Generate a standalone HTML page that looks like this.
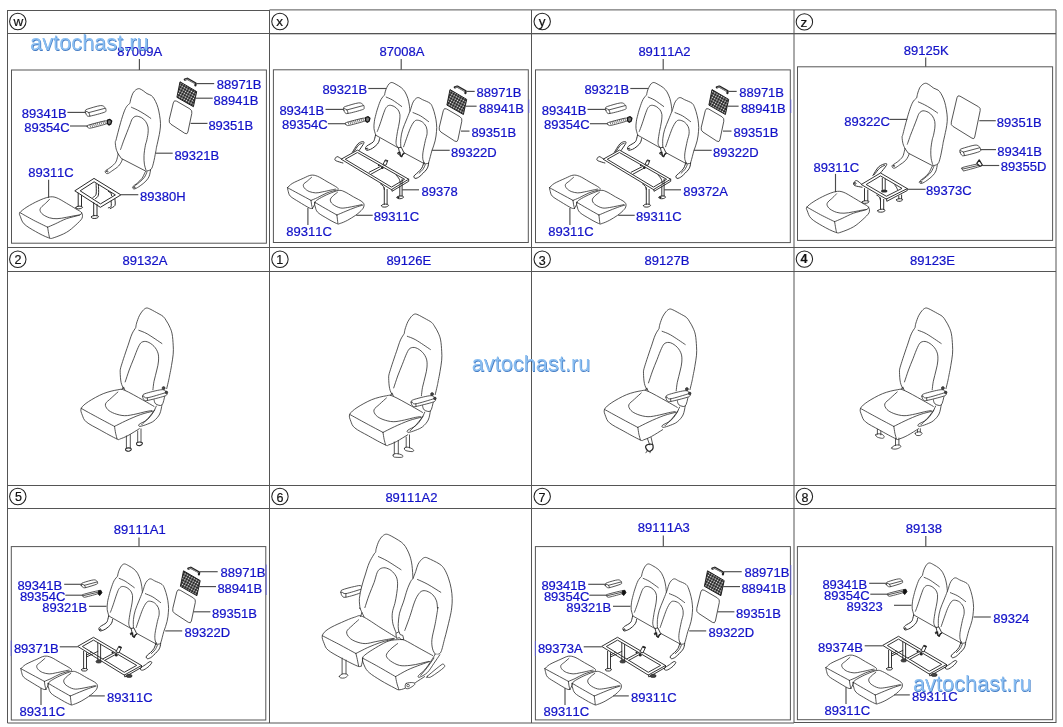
<!DOCTYPE html>
<html lang="en">
<head>
<meta charset="utf-8">
<title>Rear seat parts diagram</title>
<style>
html,body{margin:0;padding:0;background:#fff;}
body{width:1063px;height:727px;overflow:hidden;font-family:"Liberation Sans",Arial,sans-serif;}
svg{display:block;position:absolute;left:0;top:0;will-change:transform;}
.lb{font-kerning:none;font-feature-settings:'kern' 0;font-family:"Liberation Sans",Arial,sans-serif;font-size:13px;fill:#1212c8;stroke:#1212c8;stroke-width:0.22px;}
.ck{font-family:"Liberation Sans",Arial,sans-serif;fill:#111;stroke:#111;stroke-width:0.2px;text-anchor:middle;}
.wm{font-family:"Liberation Sans",Arial,sans-serif;font-size:22.6px;}
.d{fill:none;stroke:#2a2a2a;stroke-width:0.8;stroke-linejoin:round;stroke-linecap:round;}
.df{fill:#fff;stroke:#2a2a2a;stroke-width:0.8;stroke-linejoin:round;stroke-linecap:round;}
.ld{fill:none;stroke:#4d4d4d;stroke-width:1.15;}
</style>
</head>
<body>
<svg width="1063" height="727" viewBox="0 0 1063 727">
<rect width="1063" height="727" fill="#fff"/>
<path d="M7.5 10.0V723.0M269.5 10.0V723.0M531.5 10.0V723.0M794.0 10.0V723.0M1056.0 10.0V723.0M7.5 33.5H1056.0M7.5 247.5H1056.0M7.5 271.5H1056.0M7.5 485.5H1056.0M7.5 508.5H1056.0M7.5 10.5H269.5M269.5 9.9H1056.0M7.5 723.0H794M794 722.5H1056.0" fill="none" stroke="#555" stroke-width="1"/>
<path d="M269.5 34.2H1056.0" fill="none" stroke="#555" stroke-width="1" opacity="0.45"/>
<rect x="11.5" y="70.0" width="254.9" height="173.2" fill="none" stroke="#555" stroke-width="1"/>
<rect x="273.4" y="69.8" width="254.9" height="172.7" fill="none" stroke="#555" stroke-width="1"/>
<rect x="535.5" y="69.9" width="254.8" height="172.7" fill="none" stroke="#555" stroke-width="1"/>
<rect x="797.5" y="66.8" width="255.1" height="173.6" fill="none" stroke="#555" stroke-width="1"/>
<rect x="11.3" y="546.6" width="254.5" height="173.4" fill="none" stroke="#555" stroke-width="1"/>
<rect x="535.4" y="546.6" width="255.0" height="173.3" fill="none" stroke="#555" stroke-width="1"/>
<rect x="797.4" y="546.6" width="255.2" height="173.1" fill="none" stroke="#555" stroke-width="1"/>
<defs><pattern id="net" width="2.6" height="2.6" patternUnits="userSpaceOnUse" patternTransform="rotate(28)">
<rect width="2.6" height="2.6" fill="#1c1c1c"/><circle cx="1.3" cy="1.3" r="0.82" fill="#f0f0f0"/></pattern></defs>
<path class="d" d="M118.1 153.8C117.8 153 116.7 151 116.2 149.1C115.7 147.2 115.3 144 115.3 142.5C115.2 141 115.6 141.8 116 140.2C116.4 138.6 117.1 135.7 117.9 132.7C118.7 129.7 119.7 125.8 120.7 122.3C121.7 118.9 123 114.7 124 112C125 109.3 125.8 107.8 126.8 106.3C127.8 104.9 129.4 103.8 129.9 103.3C130 103 130.1 102 130.3 101.2C130.5 100.3 130.6 99.7 131 98.3C131.5 97 132.1 94.6 132.9 93.2C133.8 91.7 135.1 90.3 136.2 89.6C137.3 88.9 138.3 88.5 139.5 88.7C140.7 89 142 90 143.3 90.8C144.5 91.6 145.7 92.9 147 93.6C148.4 94.4 150.1 94.7 151.3 95.5C152.4 96.4 153.2 97.3 154.1 98.8C155 100.3 156.1 102.4 156.9 104.5C157.7 106.5 158.2 108.5 158.8 111C159.3 113.6 159.9 116.8 160.2 119.5C160.5 122.2 160.6 124.5 160.4 127C160.2 129.5 159.7 132.2 159.3 134.6C158.8 136.9 158.3 139 157.9 141.1C157.4 143.3 156.8 145.9 156.4 147.7C156.1 149.5 156.2 149.4 155.7 151.9C155.2 154.5 154.2 160.3 153.4 163.2C152.6 166.1 152.3 168 151 169.3C149.8 170.7 146.7 170.9 145.9 171.2L145.9 171.2L121.4 158.5L118.1 153.8"/>
<path class="d" d="M131.5 107.3C132.5 107.8 135.5 109 137.6 110.1C139.7 111.2 142 112.5 144.2 113.9C146.4 115.2 149.7 117.6 150.8 118.4"/>
<path class="d" d="M120.5 149.6C120.6 149.3 120.7 149.1 121.2 147.7C121.7 146.3 122.6 143.7 123.5 141.1C124.5 138.6 125.7 135.5 126.8 132.7C127.9 129.9 129.2 126.6 130.1 124.2C131 121.9 131.4 119.9 132.5 118.6C133.5 117.2 134.7 116.4 136.2 116.2C137.7 116.1 139.8 116.8 141.4 117.6C143 118.5 144.5 119.8 145.6 121.4C146.7 123 147.6 125 148 127C148.4 129.1 148.2 131.3 148 133.6C147.7 136 147 139.2 146.6 141.1C146.1 143.1 145.8 142.9 145.4 145.3C144.9 147.8 144.1 152.6 144 155.7C143.8 158.8 144.1 161.8 144.4 164.2C144.8 166.5 145.6 168.9 145.9 169.8"/>
<path class="d" d="M118.1 154.3C118 154.7 118 155.3 117.6 156.6C117.2 158 116.8 160.6 115.7 162.3C114.7 164 112.5 165.7 111 167C109.6 168.2 107.8 169.1 106.8 169.8C105.8 170.5 105.4 170.7 105.2 171.2C105.1 171.8 105.4 172.7 105.9 173.1C106.4 173.5 107 173.9 108.2 173.4C109.4 172.9 111.2 171.5 112.9 170.3C114.7 169.1 117.2 167.5 118.6 166C120 164.6 120.8 162.9 121.4 161.8C122 160.7 122.2 159.7 122.3 159.3"/>
<path class="d" d="M106.6 171.2C106.6 171 107 170.5 107.3 170.6C107.5 170.6 108 171.1 108 171.3C108 171.6 107.5 172.1 107.3 172.1C107 172 106.6 171.5 106.6 171.2Z"/>
<path class="d" d="M145.9 171.2C145.7 171.5 145.5 171.5 144.9 172.6C144.3 173.8 143.3 176.5 142.1 178.3C140.8 180 138.9 181.6 137.4 183C135.9 184.3 133.9 185.4 133.2 186.3C132.4 187.1 132.4 187.7 132.7 188.2C133 188.6 133.8 189.2 135 188.8C136.3 188.4 138.4 187.1 140.2 185.8C142 184.5 144.4 182.7 145.9 181.1C147.3 179.5 148.4 178.2 149.1 176.4C149.9 174.5 150.3 171.1 150.6 170"/>
<path class="d" d="M147 171.9C146.6 172.8 145.6 175.6 144.4 177.3C143.2 179 141.2 180.7 139.7 182C138.2 183.4 136.2 184.8 135.5 185.3"/>
<path class="d" d="M133.8 187.2C133.8 187 134.3 186.4 134.6 186.5C134.8 186.5 135.3 187.1 135.3 187.3C135.3 187.6 134.8 188 134.6 188C134.3 187.9 133.8 187.5 133.8 187.2Z"/>
<path class="d" d="M48.6 197.1C51.5 196.6 53.1 196.6 56.1 197.6C59.1 198.6 63.2 201.3 66.4 203.2C69.7 205.1 73.3 207.3 75.9 208.9C78.4 210.4 80.5 211.1 81.5 212.6C82.5 214.2 82.9 216.2 82 218.3C81 220.3 78.4 222.5 75.9 224.9C73.3 227.2 70.1 230.3 66.4 232.4C62.8 234.5 57.2 236.6 54.2 237.6C51.2 238.5 51.7 238.9 48.6 237.8C45.4 236.8 39.5 233.8 35.4 231.4C31.3 229.1 26.6 226.4 24.1 223.9C21.6 221.4 21.1 218.3 20.3 216.4C19.6 214.5 18.8 214.2 19.9 212.6C21 211.1 23.9 208.9 26.9 207C30 205 34.6 202.5 38.2 200.9C41.8 199.2 45.6 197.7 48.6 197.1Z"/>
<path class="d" d="M19.9 212.6C22.2 213.9 28.9 217.7 33.5 220.2C38.1 222.6 45.3 226 47.6 227.2M47.6 227.2C48.9 226.7 52 225.3 55.2 223.9C58.3 222.5 62.4 220.2 66.4 218.7C70.5 217.3 77.1 216 79.6 215C82.1 214 81.2 213 81.5 212.6"/>
<path class="d" d="M47.6 227.2C47.8 228.2 48.3 231.6 48.6 233.3C48.9 235.1 49.4 237.1 49.5 237.8"/>
<path class="d" d="M49.5 199.3C48.9 199.9 47.2 201.9 45.7 203.2C44.3 204.6 42 206.2 41 207.5C40.1 208.7 39.8 209.6 40.1 210.7C40.4 211.9 41.4 213.3 42.9 214.5C44.5 215.7 47.2 217.1 49.5 217.8C51.9 218.5 54.2 218.8 57 218.7C59.9 218.7 63.3 217.9 66.4 217.3C69.6 216.8 73.7 215.8 75.9 215.5C78 215.1 79 215.1 79.6 215"/>
<path class="d" d="M173.4 102.5Q174.1 99.6 176.7 101.2L189.9 108.9Q192.5 110.5 191.8 113.4L187.9 132Q187.3 134.9 184.8 133.3L171 124.3Q168.5 122.7 169.2 119.8Z"/>
<path d="M180 81.8L196.7 91.6L193.4 106.7L176.9 97.3Z" fill="url(#net)" stroke="#111" stroke-width="0.9" stroke-linejoin="round"/>
<path class="d" d="M184.8 79.6L187.3 78.7L195.7 83.4L195.4 85.3" style="stroke-width:2.2;stroke:#222"/>
<path class="d" d="M185.6 79.5L187.3 79.2L194.8 83.5" style="stroke-width:0.6;stroke:#ddd"/>
<path class="d" d="M85.6 112.8C85.3 112.1 85 111.5 85.3 110.9C85.6 110.2 84.9 110 87.4 109.1C89.9 108.3 97.5 105.9 100.4 105.6C103.3 105.3 103.8 106.6 104.7 107.3C105.7 108 106 109.1 105.9 109.9C105.9 110.8 107 111.3 104.3 112.3C101.7 113.3 93 115.6 90.1 116.1C87.2 116.7 87.7 116 86.9 115.5C86.2 114.9 85.9 113.6 85.6 112.8Z"/>
<path class="d" d="M85.6 111.2C86.1 111.5 88.1 111.8 88.8 112.6C89.5 113.4 89.6 115.4 89.8 116M88.8 112.6L105 108.3"/>
<path class="d" d="M87.4 126.7C87.4 126.3 85.4 126.2 88.2 125.2C91 124.3 101.2 121.6 104.3 121C107.5 120.4 106.9 121.1 107.3 121.6C107.6 122 109.3 122.6 106.7 123.7C104.1 124.7 94.7 127.2 91.7 127.9C88.6 128.6 89.2 128.1 88.5 127.9C87.8 127.7 87.5 127.1 87.4 126.7Z"/>
<path class="d" d="M89.8 124.9L90.6 127M91.7 124.4L92.5 126.5M93.5 123.9L94.3 126M95.4 123.4L96.2 125.5M97.2 123L98 125.1M99.1 122.5L99.9 124.6M100.9 122L101.7 124.1M102.8 121.5L103.6 123.6M104.6 121L105.4 123.2" style="stroke-width:0.6"/>
<path d="M107.5 120.2L109.9 119.4L111.7 121L110.9 123.9L109.1 125L107.3 123.4Z" fill="#777" stroke="#111" stroke-width="1.3" stroke-linejoin="round"/>
<path class="df" d="M75.1 190.6L94 178.4L120.9 194.9L100.7 207.1Z" style="stroke-width:1.0"/>
<path class="d" d="M80.5 190.6L94.1 181.8L115.4 194.9L100.8 203.7Z" style="stroke-width:1.0"/>
<path class="d" d="M78.2 193.2L78.2 206.4M81.5 195.3L81.5 206.4" style="stroke-width:1.0"/>
<path class="d" d="M75.9 207.3C76.1 206.9 77.3 206.4 78.2 206.2C79.2 206 80.8 206.2 81.5 206.4C82.2 206.6 82.7 207.1 82.5 207.5C82.2 207.9 81 208.5 80.1 208.7C79.2 208.9 77.5 209 76.8 208.7C76.1 208.5 75.6 207.8 75.9 207.3Z" style="stroke-width:1.0"/>
<path class="d" d="M93.7 202.6L93.7 215.8M97 204.3L97 215.8" style="stroke-width:1.0"/>
<path class="d" d="M91.4 216.7C91.6 216.3 92.7 215.8 93.7 215.6C94.8 215.5 96.7 215.6 97.5 215.8C98.3 216 98.7 216.5 98.4 216.9C98.2 217.4 97.1 218.1 96.1 218.3C95.1 218.6 93.1 218.5 92.3 218.2C91.5 218 91.2 217.2 91.4 216.7Z" style="stroke-width:1.0"/>
<path class="d" d="M111.1 201.2C111.1 202.1 111.6 205.3 111.1 206.4C110.7 207.5 108.8 207.6 108.3 207.8M114.9 199.1C114.9 200.1 115.7 203.9 114.9 205.5C114.1 207 111 208 110.2 208.5" style="stroke-width:1.0"/>
<path class="d" d="M96.1 183.8C96.1 185.5 96.6 191.9 96.1 194.2C95.5 196.4 93.4 196.9 92.8 197.5M98.4 184.6C98.4 186.3 99 192.8 98.4 195.1C97.9 197.5 95.7 198.1 95.2 198.7" style="stroke-width:1.0"/>
<path class="d" d="M108.3 191.3L111.1 193.2L111.6 195.6" style="stroke-width:1.0"/>
<path class="ld" d="M139.4 59L139.4 70"/>
<path class="ld" d="M67.4 112.4L85.9 112.4"/>
<path class="ld" d="M70 126L87.2 126"/>
<path class="ld" d="M196.3 83.6L214.2 83.6"/>
<path class="ld" d="M195.5 98.2L212.7 98.2"/>
<path class="ld" d="M190.6 123.4L207.5 123.4"/>
<path class="ld" d="M155.7 153.2L172.7 153.2"/>
<path class="ld" d="M121 194.7L138.3 194.7"/>
<path class="ld" d="M48.6 179.7L48.6 197.1"/>
<path class="d" d="M375.4 134.1C375.2 133.2 374.2 130.5 374 128.5C373.8 126.4 374 123.9 374.3 121.8C374.5 119.8 374.8 118.7 375.4 116.4C376 114.1 376.8 110.7 377.8 107.9C378.7 105.1 379.9 101.6 381 99.5C382.2 97.3 384 95.7 384.6 94.9C384.7 94.4 384.8 93.1 385.2 91.9C385.5 90.7 386 89 386.7 87.7C387.3 86.4 388.2 84.8 389 83.9C389.9 83.1 390.7 82.4 391.9 82.5C393 82.6 394.5 83.5 396.1 84.4C397.7 85.3 399.8 86.4 401.3 87.7C402.8 89 403.9 90.1 405 91.9C406.1 93.7 407.1 96.3 407.9 98.5C408.6 100.7 408.9 103 409.3 105.1C409.6 107.2 409.9 110.2 410 111.2"/>
<path class="d" d="M386.2 97.1C387.2 97.6 389.7 98.4 392.3 99.9C394.9 101.5 400.2 105.4 401.7 106.5"/>
<path class="d" d="M377.3 131.4C377.8 130.2 379 127.1 380.1 123.9C381.2 120.8 382.8 115.4 383.9 112.6C384.9 109.9 385.3 108.7 386.2 107.5C387.2 106.2 388.2 105.4 389.5 105.3C390.8 105.1 392.8 105.8 394.2 106.5C395.6 107.3 397 108.5 398 109.8C398.9 111.1 399.6 112.5 399.9 114.5C400.1 116.5 399.8 119.2 399.4 122C399 124.9 398.1 128.3 397.5 131.4C397 134.6 396.3 138.6 396.1 140.9C395.9 143.2 396.2 144.3 396.6 145.4C397 146.5 398.1 147.4 398.4 147.8"/>
<path class="d" d="M400.8 147.3C400.8 145.9 400.5 141.8 400.8 138.8C401.1 135.8 401.7 132.5 402.7 129.4C403.6 126.3 405.3 122.9 406.4 120C407.6 117 409 113.7 409.7 111.7C410.5 109.7 410.7 109.3 411.1 107.9C411.6 106.5 411.9 104.6 412.6 103.2C413.2 101.8 414 100.4 414.9 99.5C415.9 98.5 416.9 97.5 418.2 97.6C419.5 97.6 420.5 98.7 422.4 99.6C424.4 100.6 428.2 101.8 430 103.2C431.7 104.6 431.9 105.9 432.8 107.9C433.6 110 434.5 112.8 435.1 115.5C435.8 118.1 436.3 121.3 436.5 123.9C436.8 126.6 436.8 128.6 436.5 131.4C436.3 134.3 435.9 137.6 435.1 140.9C434.4 144.2 432.9 147.6 431.8 151C430.8 154.5 429.7 159.3 429 161.4C428.3 163.5 428.4 163.1 427.6 163.5C426.8 163.9 424.9 163.7 424.3 163.7"/>
<path class="d" d="M376.3 135.5L398.9 148.2M403.6 152.5L424.3 163.7"/>
<path class="d" d="M413 112.6C414.3 113.2 418 114.4 420.6 115.9C423.1 117.4 427.2 120.6 428.6 121.6"/>
<path class="d" d="M403.6 146.8C404.1 145.5 405.3 141.9 406.4 138.8C407.5 135.8 409 131.3 410.2 128.5C411.5 125.6 412.8 123.2 414 121.8C415.1 120.5 415.9 120.1 417.3 120.2C418.7 120.2 420.9 120.9 422.4 122C423.9 123.1 425.4 124.9 426.2 126.7C427 128.6 427.3 131 427.1 133.3C427 135.7 426 137.4 425.3 140.7C424.6 144 423.3 149.8 422.9 152.9C422.5 156.1 422.7 157.8 422.9 159.5C423.1 161.2 424.1 162.6 424.3 163.3"/>
<path class="d" d="M375.6 134.6C375.4 135.3 375.1 137.6 374.6 138.8C374.2 140.1 374.3 140.9 373 142.1C371.8 143.3 368.4 144.8 367.1 145.8C365.9 146.8 365.6 147.3 365.5 148C365.4 148.8 365.9 150 366.5 150.3C367 150.6 367.8 150.3 368.8 149.9C369.8 149.6 371.2 149.2 372.6 148.2C374 147.3 376.2 145.4 377.3 144.2C378.3 143 378.6 142.1 379 141.2C379.4 140.3 379.4 139.1 379.5 138.7" style="stroke-width:1"/>
<path class="d" d="M366.5 148.7C366.5 148.5 366.9 148 367.1 148C367.4 148 367.9 148.6 367.9 148.8C367.9 149 367.4 149.5 367.1 149.4C366.9 149.4 366.5 148.9 366.5 148.7Z"/>
<path class="d" d="M424 162.3C423.6 163.3 422.7 166.5 421.7 168.2C420.7 169.8 419.3 171.1 418.2 172.2C417.1 173.3 415.8 174 415.1 174.8C414.4 175.5 413.8 176.2 413.8 176.8C413.8 177.4 414.5 178.2 415.1 178.4C415.7 178.6 416.4 178.2 417.3 177.9C418.1 177.5 418.6 177.4 420.1 176.1C421.6 174.7 424.9 171.5 426.2 169.9C427.5 168.2 427.7 167.3 428.1 166.1C428.5 164.9 428.5 163.4 428.6 162.9" style="stroke-width:1"/>
<path class="d" d="M425.3 164.7C424.9 165.5 423.9 168 422.9 169.4C421.9 170.8 419.8 172.5 419.1 173.2"/>
<path d="M398.4 147.8L401.3 147.3L403.6 152L404.6 153.4L402.7 154.3L401.7 156.7L400.3 156.2L399.9 153.9L398 154.3L397.5 152.9L399.4 152Z" fill="#fff" stroke="#222" stroke-width="0.9" stroke-linejoin="round"/>
<path d="M398 152.9L399.9 152.5L400.3 155.7L401.7 156.5L402.7 154.3L404.1 153.4" fill="none" stroke="#222" stroke-width="1.3"/>
<path class="df" d="M352.3 152.4C353.2 151 356.2 145.7 357.9 143.9C359.7 142.1 361.7 141.7 362.6 141.6C363.6 141.5 364.4 141.8 363.8 143.3C363.2 144.8 359.8 149.3 359.1 150.5" style="stroke-width:0.95"/>
<path class="d" d="M353.7 151.9C354.5 150.8 357 146.8 358.4 145.3C359.8 143.9 361.5 143.6 362.2 143.3" style="stroke-width:0.95"/>
<path class="df" d="M341.5 159C340.8 158.6 338.3 156.6 337.2 156.6C336.1 156.7 335 158.6 334.9 159.3C334.7 160 335 160.2 336.3 160.9C337.6 161.5 341.8 162.7 342.9 163" style="stroke-width:0.95"/>
<path class="df" d="M341.5 159L357.5 150.1L408.7 179.2L391.8 189.4Z" style="stroke-width:0.95"/>
<path class="df" d="M345.6 159.1L357.4 152.5L404.6 179.3L391.8 186.9Z" style="stroke-width:0.95"/>
<path class="d" d="M391.8 189.4L392 191.3L408.7 181.3L408.7 179.2" style="stroke-width:0.95"/>
<path class="df" d="M369.2 172.2L380.5 166.5L382.4 167.9L371.3 174" style="stroke-width:0.95"/>
<path class="df" d="M383.1 164.4L385.2 159.9L387.8 160.6L386.1 164.9Z" style="stroke-width:0.95"/>
<path d="M385.2 159.9L387.8 160.6L387.3 161.8L385 161.3Z" fill="#333"/>
<circle cx="382.4" cy="167.7" r="1.2" fill="#222"/>
<circle cx="378.8" cy="165.3" r="0.9" fill="#222"/>
<path class="d" d="M396 175C396.6 175.7 398.6 177.7 399.3 179.2C400 180.7 400.1 183.1 400.3 183.9M402.1 179.2L402.1 183.9" style="stroke-width:0.95"/>
<path class="d" d="M380.5 183.9C381 184.3 382.7 185.3 383.3 186.3C384 187.2 384.1 189 384.3 189.6" style="stroke-width:0.95"/>
<path class="d" d="M384.3 187.7L384.3 204.3M387.1 189.4L387.1 204.3" style="stroke-width:0.95"/>
<path class="d" d="M381.4 205.6C381.6 205.1 382.8 204.4 383.8 204.2C384.8 204 386.5 204.1 387.3 204.3C388.1 204.6 388.7 205.1 388.5 205.6C388.3 206 386.9 206.7 386 207C385 207.2 383.3 207.1 382.6 206.9C381.8 206.6 381.2 206 381.4 205.6Z" style="stroke-width:0.95"/>
<path class="d" d="M399.8 185.8L399.8 196.1M402.1 184.7L402.1 196.1" style="stroke-width:0.95"/>
<path class="d" d="M397 197.1C397.2 196.7 398.4 196.1 399.3 196C400.3 195.8 401.9 195.9 402.6 196.1C403.3 196.4 403.8 196.9 403.6 197.3C403.3 197.7 402.1 198.4 401.2 198.6C400.3 198.8 398.6 198.8 397.9 198.5C397.2 198.2 396.7 197.5 397 197.1Z" style="stroke-width:0.95"/>
<circle cx="398.4" cy="197.5" r="1.1" fill="#222"/>
<path class="d" d="M287.5 187.7C288.3 187 289.6 185.1 292.2 183.5C294.9 181.9 300.4 179.6 303.5 178.2C306.7 176.8 308.7 175.5 311 175.2C313.4 174.9 315 175.3 317.6 176.3C320.3 177.4 323.7 179.7 327 181.6C330.3 183.5 335.6 186.3 337.4 187.7C339.1 189.1 337.5 189.7 337.6 190.1"/>
<path class="d" d="M312.5 208.4C311.9 208.3 311.4 209 309.2 207.9C306.9 206.8 302 203.8 298.8 201.8C295.7 199.9 292.2 198 290.3 196.2C288.5 194.3 288.5 191.9 288 190.5C287.5 189.1 287.6 188.2 287.5 187.7"/>
<path class="d" d="M287.5 187.7C289.4 188.7 294.9 191.7 298.8 193.8C302.7 195.9 309 199.3 311 200.4M311 200.4C312.1 199.9 315 198.8 317.6 197.6C320.3 196.3 323.9 194.1 327 192.9C330.2 191.6 334.9 190.5 336.4 190.1"/>
<path class="d" d="M311 200.4C311.1 201 311.3 202.8 311.5 204.2C311.7 205.5 312.3 207.7 312.5 208.4"/>
<path class="d" d="M311.5 177.4C310.8 178 308.6 179.9 307.3 181.1C305.9 182.3 304 183.2 303.5 184.4C303 185.6 303.5 187 304.5 188.2C305.4 189.3 307.3 190.7 309.2 191.5C311 192.2 313.6 192.8 315.7 192.9C317.9 193 319.8 192.4 322.3 191.9C324.8 191.5 328.6 190.5 330.8 190.1C333 189.6 334.7 189.3 335.5 189.1"/>
<path class="d" d="M312.5 208.4C312.7 208 313.4 206.9 313.9 206C314.3 205.2 314.8 203.7 315 203.2"/>
<path class="d" d="M314.8 202.3C315.5 200.9 317.2 199.9 319.5 198.5C321.9 197.1 325.8 195.1 328.9 193.8C332.1 192.5 335.8 190.9 338.3 190.5C340.8 190.1 341.5 190.4 344 191.5C346.5 192.5 350.2 195 353.4 196.8C356.5 198.6 361.1 200.6 362.8 202.3C364.5 204 364.2 205.4 363.7 207C363.3 208.6 361.4 210.3 360 211.7C358.6 213.1 357.3 214 355.3 215.5C353.2 216.9 350.2 218.8 347.7 220.2C345.2 221.5 342.1 222.9 340.2 223.4C338.3 224 339 224.5 336.4 223.4C333.9 222.4 328.3 219.2 325.2 217.3C322 215.5 319.3 213.9 317.6 212.2C316 210.4 315.7 208.6 315.3 207C314.8 205.3 314.1 203.7 314.8 202.3Z"/>
<path class="d" d="M314.8 202.3C316.5 203.3 321.5 206.3 325.2 208.4C328.8 210.5 335 213.9 336.9 215M336.9 215C338.4 214.4 342.8 212.5 345.9 211.2C348.9 210 352.4 208.5 355.3 207.5C358.1 206.4 361.5 205.5 362.8 205.1"/>
<path class="d" d="M336.9 215C337 215.7 337.2 217.8 337.4 219.2C337.5 220.6 337.8 222.7 337.9 223.4"/>
<path class="d" d="M337.4 192.4C336.6 193 333.9 194.9 332.7 196.2C331.5 197.4 330.3 198.6 330.3 199.9C330.3 201.3 331 202.8 332.7 204.2C334.3 205.5 337.7 207.4 340.2 207.9C342.7 208.5 345.2 207.8 347.7 207.5C350.2 207.1 352.9 206.5 355.3 206C357.6 205.6 360.7 204.9 361.8 204.6"/>
<path class="d" d="M443.4 110.3Q444.1 107.4 446.7 109L459.9 116.7Q462.5 118.3 461.8 121.2L457.9 139.8Q457.3 142.7 454.8 141.1L441 132.1Q438.5 130.5 439.2 127.6Z"/>
<path d="M450 89.6L466.7 99.4L463.4 114.5L446.9 105.1Z" fill="url(#net)" stroke="#111" stroke-width="0.9" stroke-linejoin="round"/>
<path class="d" d="M454.8 87.4L457.3 86.5L465.7 91.2L465.4 93.1" style="stroke-width:2.2;stroke:#222"/>
<path class="d" d="M455.6 87.3L457.3 87L464.8 91.3" style="stroke-width:0.6;stroke:#ddd"/>
<path class="d" d="M343.8 110.1C343.5 109.4 343.2 108.8 343.5 108.2C343.8 107.5 343.1 107.3 345.6 106.4C348.1 105.6 355.7 103.2 358.6 102.9C361.5 102.6 362 103.9 362.9 104.6C363.9 105.3 364.2 106.4 364.1 107.2C364.1 108.1 365.2 108.6 362.5 109.6C359.9 110.6 351.2 112.9 348.3 113.4C345.4 114 345.9 113.3 345.1 112.8C344.4 112.2 344.1 110.9 343.8 110.1Z"/>
<path class="d" d="M343.8 108.5C344.3 108.8 346.3 109.1 347 109.9C347.7 110.7 347.8 112.7 348 113.3M347 109.9L363.2 105.6"/>
<path class="d" d="M345.6 124C345.6 123.6 343.6 123.5 346.4 122.5C349.2 121.6 359.4 118.9 362.5 118.3C365.7 117.7 365.1 118.4 365.5 118.9C365.8 119.3 367.5 119.9 364.9 121C362.3 122 352.9 124.5 349.9 125.2C346.8 125.9 347.4 125.4 346.7 125.2C346 125 345.7 124.4 345.6 124Z"/>
<path class="d" d="M348 122.2L348.8 124.3M349.9 121.7L350.7 123.8M351.7 121.2L352.5 123.3M353.6 120.7L354.4 122.8M355.4 120.3L356.2 122.4M357.3 119.8L358.1 121.9M359.1 119.3L359.9 121.4M361 118.8L361.8 120.9M362.8 118.3L363.6 120.5" style="stroke-width:0.6"/>
<path d="M365.7 117.5L368.1 116.7L369.9 118.3L369.1 121.2L367.3 122.3L365.5 120.7Z" fill="#777" stroke="#111" stroke-width="1.3" stroke-linejoin="round"/>
<path class="ld" d="M401.2 59L401.2 69.8"/>
<path class="ld" d="M368.3 88.5L386.2 88.5"/>
<path class="ld" d="M431.8 150.3L449.7 150.3"/>
<path class="ld" d="M402.1 189.8L419 189.8"/>
<path class="ld" d="M307.9 207.9L307.9 224.9"/>
<path class="ld" d="M356.2 215.3L372.7 215.3"/>
<path class="ld" d="M466.7 91.4L474.7 91.4"/>
<path class="ld" d="M465.7 106.2L476.6 106.2"/>
<path class="ld" d="M461 131.1L469.5 131.1"/>
<path class="ld" d="M325.5 109.4L343.4 109.4"/>
<path class="ld" d="M327.9 123.7L345.3 123.7"/>
<path class="d" d="M637.4 134.1C637.2 133.2 636.2 130.5 636 128.5C635.8 126.4 636 123.9 636.3 121.8C636.5 119.8 636.8 118.7 637.4 116.4C638 114.1 638.8 110.7 639.8 107.9C640.7 105.1 641.9 101.6 643 99.5C644.2 97.3 646 95.7 646.6 94.9C646.7 94.4 646.8 93.1 647.2 91.9C647.5 90.7 648 89 648.7 87.7C649.3 86.4 650.2 84.8 651 83.9C651.9 83.1 652.7 82.4 653.9 82.5C655 82.6 656.5 83.5 658.1 84.4C659.7 85.3 661.8 86.4 663.3 87.7C664.8 89 665.9 90.1 667 91.9C668.1 93.7 669.1 96.3 669.9 98.5C670.6 100.7 670.9 103 671.3 105.1C671.6 107.2 671.9 110.2 672 111.2"/>
<path class="d" d="M648.2 97.1C649.2 97.6 651.7 98.4 654.3 99.9C656.9 101.5 662.2 105.4 663.7 106.5"/>
<path class="d" d="M639.3 131.4C639.8 130.2 641 127.1 642.1 123.9C643.2 120.8 644.8 115.4 645.9 112.6C646.9 109.9 647.3 108.7 648.2 107.5C649.2 106.2 650.2 105.4 651.5 105.3C652.8 105.1 654.8 105.8 656.2 106.5C657.6 107.3 659 108.5 660 109.8C660.9 111.1 661.6 112.5 661.9 114.5C662.1 116.5 661.8 119.2 661.4 122C661 124.9 660.1 128.3 659.5 131.4C659 134.6 658.3 138.6 658.1 140.9C657.9 143.2 658.2 144.3 658.6 145.4C659 146.5 660.1 147.4 660.4 147.8"/>
<path class="d" d="M662.8 147.3C662.8 145.9 662.5 141.8 662.8 138.8C663.1 135.8 663.7 132.5 664.7 129.4C665.6 126.3 667.3 122.9 668.4 120C669.6 117 671 113.7 671.7 111.7C672.5 109.7 672.7 109.3 673.1 107.9C673.6 106.5 673.9 104.6 674.6 103.2C675.2 101.8 676 100.4 676.9 99.5C677.9 98.5 678.9 97.5 680.2 97.6C681.5 97.6 682.5 98.7 684.4 99.6C686.4 100.6 690.2 101.8 692 103.2C693.7 104.6 693.9 105.9 694.8 107.9C695.6 110 696.5 112.8 697.1 115.5C697.8 118.1 698.3 121.3 698.5 123.9C698.8 126.6 698.8 128.6 698.5 131.4C698.3 134.3 697.9 137.6 697.1 140.9C696.4 144.2 694.9 147.6 693.8 151C692.8 154.5 691.7 159.3 691 161.4C690.3 163.5 690.4 163.1 689.6 163.5C688.8 163.9 686.9 163.7 686.3 163.7"/>
<path class="d" d="M638.3 135.5L660.9 148.2M665.6 152.5L686.3 163.7"/>
<path class="d" d="M675 112.6C676.3 113.2 680 114.4 682.6 115.9C685.1 117.4 689.2 120.6 690.6 121.6"/>
<path class="d" d="M665.6 146.8C666.1 145.5 667.3 141.9 668.4 138.8C669.5 135.8 671 131.3 672.2 128.5C673.5 125.6 674.8 123.2 676 121.8C677.1 120.5 677.9 120.1 679.3 120.2C680.7 120.2 682.9 120.9 684.4 122C685.9 123.1 687.4 124.9 688.2 126.7C689 128.6 689.3 131 689.1 133.3C689 135.7 688 137.4 687.3 140.7C686.6 144 685.3 149.8 684.9 152.9C684.5 156.1 684.7 157.8 684.9 159.5C685.1 161.2 686.1 162.6 686.3 163.3"/>
<path class="d" d="M637.6 134.6C637.4 135.3 637.1 137.6 636.6 138.8C636.2 140.1 636.3 140.9 635 142.1C633.8 143.3 630.4 144.8 629.1 145.8C627.9 146.8 627.6 147.3 627.5 148C627.4 148.8 627.9 150 628.5 150.3C629 150.6 629.8 150.3 630.8 149.9C631.8 149.6 633.2 149.2 634.6 148.2C636 147.3 638.2 145.4 639.3 144.2C640.3 143 640.6 142.1 641 141.2C641.4 140.3 641.4 139.1 641.5 138.7" style="stroke-width:1"/>
<path class="d" d="M628.5 148.7C628.5 148.5 628.9 148 629.1 148C629.4 148 629.9 148.6 629.9 148.8C629.9 149 629.4 149.5 629.1 149.4C628.9 149.4 628.5 148.9 628.5 148.7Z"/>
<path class="d" d="M686 162.3C685.6 163.3 684.7 166.5 683.7 168.2C682.7 169.8 681.3 171.1 680.2 172.2C679.1 173.3 677.8 174 677.1 174.8C676.4 175.5 675.8 176.2 675.8 176.8C675.8 177.4 676.5 178.2 677.1 178.4C677.7 178.6 678.4 178.2 679.3 177.9C680.1 177.5 680.6 177.4 682.1 176.1C683.6 174.7 686.9 171.5 688.2 169.9C689.5 168.2 689.7 167.3 690.1 166.1C690.5 164.9 690.5 163.4 690.6 162.9" style="stroke-width:1"/>
<path class="d" d="M687.3 164.7C686.9 165.5 685.9 168 684.9 169.4C683.9 170.8 681.8 172.5 681.1 173.2"/>
<path d="M660.4 147.8L663.3 147.3L665.6 152L666.6 153.4L664.7 154.3L663.7 156.7L662.3 156.2L661.9 153.9L660 154.3L659.5 152.9L661.4 152Z" fill="#fff" stroke="#222" stroke-width="0.9" stroke-linejoin="round"/>
<path d="M660 152.9L661.9 152.5L662.3 155.7L663.7 156.5L664.7 154.3L666.1 153.4" fill="none" stroke="#222" stroke-width="1.3"/>
<path class="df" d="M614.3 152.4C615.2 151 618.2 145.7 619.9 143.9C621.7 142.1 623.7 141.7 624.6 141.6C625.6 141.5 626.4 141.8 625.8 143.3C625.2 144.8 621.8 149.3 621.1 150.5" style="stroke-width:0.95"/>
<path class="d" d="M615.7 151.9C616.5 150.8 619 146.8 620.4 145.3C621.8 143.9 623.5 143.6 624.2 143.3" style="stroke-width:0.95"/>
<path class="df" d="M603.5 159C602.8 158.6 600.3 156.6 599.2 156.6C598.1 156.7 597 158.6 596.9 159.3C596.7 160 597 160.2 598.3 160.9C599.6 161.5 603.8 162.7 604.9 163" style="stroke-width:0.95"/>
<path class="df" d="M603.5 159L619.5 150.1L670.7 179.2L653.8 189.4Z" style="stroke-width:0.95"/>
<path class="df" d="M607.6 159.1L619.4 152.5L666.6 179.3L653.8 186.9Z" style="stroke-width:0.95"/>
<path class="d" d="M653.8 189.4L654 191.3L670.7 181.3L670.7 179.2" style="stroke-width:0.95"/>
<path class="df" d="M631.2 172.2L642.5 166.5L644.4 167.9L633.3 174" style="stroke-width:0.95"/>
<path class="df" d="M645.1 164.4L647.2 159.9L649.8 160.6L648.1 164.9Z" style="stroke-width:0.95"/>
<path d="M647.2 159.9L649.8 160.6L649.3 161.8L647 161.3Z" fill="#333"/>
<circle cx="644.4" cy="167.7" r="1.2" fill="#222"/>
<circle cx="640.8" cy="165.3" r="0.9" fill="#222"/>
<path class="d" d="M658 175C658.6 175.7 660.6 177.7 661.3 179.2C662 180.7 662.1 183.1 662.3 183.9M664.1 179.2L664.1 183.9" style="stroke-width:0.95"/>
<path class="d" d="M642.5 183.9C643 184.3 644.7 185.3 645.3 186.3C646 187.2 646.1 189 646.3 189.6" style="stroke-width:0.95"/>
<path class="d" d="M646.3 187.7L646.3 204.3M649.1 189.4L649.1 204.3" style="stroke-width:0.95"/>
<path class="d" d="M643.4 205.6C643.6 205.1 644.8 204.4 645.8 204.2C646.8 204 648.5 204.1 649.3 204.3C650.1 204.6 650.7 205.1 650.5 205.6C650.3 206 648.9 206.7 648 207C647 207.2 645.3 207.1 644.6 206.9C643.8 206.6 643.2 206 643.4 205.6Z" style="stroke-width:0.95"/>
<path class="d" d="M661.8 185.8L661.8 196.1M664.1 184.7L664.1 196.1" style="stroke-width:0.95"/>
<path class="d" d="M659 197.1C659.2 196.7 660.4 196.1 661.3 196C662.3 195.8 663.9 195.9 664.6 196.1C665.3 196.4 665.8 196.9 665.6 197.3C665.3 197.7 664.1 198.4 663.2 198.6C662.3 198.8 660.6 198.8 659.9 198.5C659.2 198.2 658.7 197.5 659 197.1Z" style="stroke-width:0.95"/>
<circle cx="660.4" cy="197.5" r="1.1" fill="#222"/>
<path class="d" d="M549.5 187.7C550.3 187 551.6 185.1 554.2 183.5C556.9 181.9 562.4 179.6 565.5 178.2C568.7 176.8 570.7 175.5 573 175.2C575.4 174.9 577 175.3 579.6 176.3C582.3 177.4 585.7 179.7 589 181.6C592.3 183.5 597.6 186.3 599.4 187.7C601.1 189.1 599.5 189.7 599.6 190.1"/>
<path class="d" d="M574.5 208.4C573.9 208.3 573.4 209 571.2 207.9C568.9 206.8 564 203.8 560.8 201.8C557.7 199.9 554.2 198 552.3 196.2C550.5 194.3 550.5 191.9 550 190.5C549.5 189.1 549.6 188.2 549.5 187.7"/>
<path class="d" d="M549.5 187.7C551.4 188.7 556.9 191.7 560.8 193.8C564.7 195.9 571 199.3 573 200.4M573 200.4C574.1 199.9 577 198.8 579.6 197.6C582.3 196.3 585.9 194.1 589 192.9C592.2 191.6 596.9 190.5 598.4 190.1"/>
<path class="d" d="M573 200.4C573.1 201 573.3 202.8 573.5 204.2C573.7 205.5 574.3 207.7 574.5 208.4"/>
<path class="d" d="M573.5 177.4C572.8 178 570.6 179.9 569.3 181.1C567.9 182.3 566 183.2 565.5 184.4C565 185.6 565.5 187 566.5 188.2C567.4 189.3 569.3 190.7 571.2 191.5C573 192.2 575.6 192.8 577.7 192.9C579.9 193 581.8 192.4 584.3 191.9C586.8 191.5 590.6 190.5 592.8 190.1C595 189.6 596.7 189.3 597.5 189.1"/>
<path class="d" d="M574.5 208.4C574.7 208 575.4 206.9 575.9 206C576.3 205.2 576.8 203.7 577 203.2"/>
<path class="d" d="M576.8 202.3C577.5 200.9 579.2 199.9 581.5 198.5C583.9 197.1 587.8 195.1 590.9 193.8C594.1 192.5 597.8 190.9 600.3 190.5C602.8 190.1 603.5 190.4 606 191.5C608.5 192.5 612.2 195 615.4 196.8C618.5 198.6 623.1 200.6 624.8 202.3C626.5 204 626.2 205.4 625.7 207C625.3 208.6 623.4 210.3 622 211.7C620.6 213.1 619.3 214 617.3 215.5C615.2 216.9 612.2 218.8 609.7 220.2C607.2 221.5 604.1 222.9 602.2 223.4C600.3 224 601 224.5 598.4 223.4C595.9 222.4 590.3 219.2 587.2 217.3C584 215.5 581.3 213.9 579.6 212.2C578 210.4 577.7 208.6 577.3 207C576.8 205.3 576.1 203.7 576.8 202.3Z"/>
<path class="d" d="M576.8 202.3C578.5 203.3 583.5 206.3 587.2 208.4C590.8 210.5 597 213.9 598.9 215M598.9 215C600.4 214.4 604.8 212.5 607.9 211.2C610.9 210 614.4 208.5 617.3 207.5C620.1 206.4 623.5 205.5 624.8 205.1"/>
<path class="d" d="M598.9 215C599 215.7 599.2 217.8 599.4 219.2C599.5 220.6 599.8 222.7 599.9 223.4"/>
<path class="d" d="M599.4 192.4C598.6 193 595.9 194.9 594.7 196.2C593.5 197.4 592.3 198.6 592.3 199.9C592.3 201.3 593 202.8 594.7 204.2C596.3 205.5 599.7 207.4 602.2 207.9C604.7 208.5 607.2 207.8 609.7 207.5C612.2 207.1 614.9 206.5 617.3 206C619.6 205.6 622.7 204.9 623.8 204.6"/>
<path class="d" d="M705.4 110.3Q706.1 107.4 708.7 109L721.9 116.7Q724.5 118.3 723.8 121.2L719.9 139.8Q719.3 142.7 716.8 141.1L703 132.1Q700.5 130.5 701.2 127.6Z"/>
<path d="M712 89.6L728.7 99.4L725.4 114.5L708.9 105.1Z" fill="url(#net)" stroke="#111" stroke-width="0.9" stroke-linejoin="round"/>
<path class="d" d="M716.8 87.4L719.3 86.5L727.7 91.2L727.4 93.1" style="stroke-width:2.2;stroke:#222"/>
<path class="d" d="M717.6 87.3L719.3 87L726.8 91.3" style="stroke-width:0.6;stroke:#ddd"/>
<path class="d" d="M605.8 110.1C605.5 109.4 605.2 108.8 605.5 108.2C605.8 107.5 605.1 107.3 607.6 106.4C610.1 105.6 617.7 103.2 620.6 102.9C623.5 102.6 624 103.9 624.9 104.6C625.9 105.3 626.2 106.4 626.1 107.2C626.1 108.1 627.2 108.6 624.5 109.6C621.9 110.6 613.2 112.9 610.3 113.4C607.4 114 607.9 113.3 607.1 112.8C606.4 112.2 606.1 110.9 605.8 110.1Z"/>
<path class="d" d="M605.8 108.5C606.3 108.8 608.3 109.1 609 109.9C609.7 110.7 609.8 112.7 610 113.3M609 109.9L625.2 105.6"/>
<path class="d" d="M607.6 124C607.6 123.6 605.6 123.5 608.4 122.5C611.2 121.6 621.4 118.9 624.5 118.3C627.7 117.7 627.1 118.4 627.5 118.9C627.8 119.3 629.5 119.9 626.9 121C624.3 122 614.9 124.5 611.9 125.2C608.8 125.9 609.4 125.4 608.7 125.2C608 125 607.7 124.4 607.6 124Z"/>
<path class="d" d="M610 122.2L610.8 124.3M611.9 121.7L612.7 123.8M613.7 121.2L614.5 123.3M615.6 120.7L616.4 122.8M617.4 120.3L618.2 122.4M619.3 119.8L620.1 121.9M621.1 119.3L621.9 121.4M623 118.8L623.8 120.9M624.8 118.3L625.6 120.5" style="stroke-width:0.6"/>
<path d="M627.7 117.5L630.1 116.7L631.9 118.3L631.1 121.2L629.3 122.3L627.5 120.7Z" fill="#777" stroke="#111" stroke-width="1.3" stroke-linejoin="round"/>
<path class="ld" d="M663.2 59L663.2 69.8"/>
<path class="ld" d="M630.3 88.5L648.2 88.5"/>
<path class="ld" d="M693.8 150.3L711.7 150.3"/>
<path class="ld" d="M664.1 189.8L681 189.8"/>
<path class="ld" d="M569.9 207.9L569.9 224.9"/>
<path class="ld" d="M618.2 215.3L634.7 215.3"/>
<path class="ld" d="M728.7 91.4L736.7 91.4"/>
<path class="ld" d="M727.7 106.2L738.6 106.2"/>
<path class="ld" d="M723 131.1L731.5 131.1"/>
<path class="ld" d="M587.5 109.4L605.4 109.4"/>
<path class="ld" d="M589.9 123.7L607.3 123.7"/>
<path class="d" d="M904.9 148.4C904.6 147.6 903.5 145.6 903 143.7C902.5 141.8 902.1 138.6 902.1 137.1C902 135.6 902.4 136.4 902.8 134.8C903.2 133.2 903.9 130.3 904.7 127.3C905.5 124.3 906.5 120.4 907.5 116.9C908.5 113.5 909.8 109.3 910.8 106.6C911.8 103.9 912.6 102.4 913.6 100.9C914.6 99.5 916.2 98.4 916.7 97.9C916.8 97.6 916.9 96.6 917.1 95.8C917.3 94.9 917.4 94.3 917.8 92.9C918.3 91.6 918.9 89.2 919.7 87.8C920.6 86.3 921.9 84.9 923 84.2C924.1 83.5 925.1 83.1 926.3 83.3C927.5 83.6 928.8 84.6 930.1 85.4C931.3 86.2 932.5 87.5 933.8 88.2C935.2 89 936.9 89.3 938.1 90.1C939.2 91 940 91.9 940.9 93.4C941.8 94.9 942.9 97 943.7 99.1C944.5 101.1 945 103.1 945.6 105.6C946.1 108.2 946.7 111.4 947 114.1C947.3 116.8 947.4 119.1 947.2 121.6C947 124.1 946.5 126.8 946.1 129.2C945.6 131.5 945.1 133.6 944.7 135.7C944.2 137.9 943.6 140.5 943.2 142.3C942.9 144.1 943 144 942.5 146.5C942 149.1 941 154.9 940.2 157.8C939.4 160.7 939.1 162.6 937.8 163.9C936.6 165.3 933.5 165.5 932.7 165.8L932.7 165.8L908.2 153.1L904.9 148.4"/>
<path class="d" d="M918.3 101.9C919.3 102.4 922.3 103.6 924.4 104.7C926.5 105.8 928.8 107.1 931 108.5C933.2 109.8 936.5 112.2 937.6 113"/>
<path class="d" d="M907.3 144.2C907.4 143.9 907.5 143.7 908 142.3C908.5 140.9 909.4 138.3 910.3 135.7C911.3 133.2 912.5 130.1 913.6 127.3C914.7 124.5 916 121.2 916.9 118.8C917.8 116.5 918.2 114.5 919.3 113.2C920.3 111.8 921.5 111 923 110.8C924.5 110.7 926.6 111.4 928.2 112.2C929.8 113.1 931.3 114.4 932.4 116C933.5 117.6 934.4 119.6 934.8 121.6C935.2 123.7 935 125.9 934.8 128.2C934.5 130.6 933.8 133.8 933.4 135.7C932.9 137.7 932.6 137.5 932.2 139.9C931.7 142.4 930.9 147.2 930.8 150.3C930.6 153.4 930.9 156.4 931.2 158.8C931.6 161.1 932.4 163.5 932.7 164.4"/>
<path class="d" d="M904.9 148.9C904.8 149.3 904.8 149.9 904.4 151.2C904 152.6 903.6 155.2 902.5 156.9C901.5 158.6 899.3 160.3 897.8 161.6C896.4 162.8 894.6 163.7 893.6 164.4C892.6 165.1 892.2 165.3 892 165.8C891.9 166.4 892.2 167.3 892.7 167.7C893.2 168.1 893.8 168.5 895 168C896.2 167.5 898 166.1 899.7 164.9C901.5 163.7 904 162.1 905.4 160.6C906.8 159.2 907.6 157.5 908.2 156.4C908.8 155.3 909 154.3 909.1 153.9"/>
<path class="d" d="M893.4 165.8C893.4 165.6 893.8 165.1 894.1 165.2C894.3 165.2 894.8 165.7 894.8 165.9C894.8 166.2 894.3 166.7 894.1 166.7C893.8 166.6 893.4 166.1 893.4 165.8Z"/>
<path class="d" d="M932.7 165.8C932.5 166.1 932.3 166.1 931.7 167.2C931.1 168.4 930.1 171.1 928.9 172.9C927.6 174.6 925.7 176.2 924.2 177.6C922.7 178.9 920.7 180 920 180.9C919.2 181.7 919.2 182.3 919.5 182.8C919.8 183.2 920.6 183.8 921.8 183.4C923.1 183 925.2 181.7 927 180.4C928.8 179.1 931.2 177.3 932.7 175.7C934.1 174.1 935.2 172.8 935.9 171C936.7 169.1 937.1 165.7 937.4 164.6"/>
<path class="d" d="M933.8 166.5C933.4 167.4 932.4 170.2 931.2 171.9C930 173.6 928 175.3 926.5 176.6C925 178 923 179.4 922.3 179.9"/>
<path class="d" d="M920.6 181.8C920.6 181.6 921.1 181 921.4 181.1C921.6 181.1 922.1 181.7 922.1 181.9C922.1 182.2 921.6 182.6 921.4 182.6C921.1 182.5 920.6 182.1 920.6 181.8Z"/>
<path class="d" d="M835.6 191.6C838.5 191.1 840.1 191.1 843.1 192.1C846.1 193.1 850.2 195.8 853.4 197.7C856.7 199.6 860.3 201.8 862.9 203.4C865.4 204.9 867.5 205.6 868.5 207.1C869.5 208.7 869.9 210.7 869 212.8C868 214.8 865.4 217 862.9 219.4C860.3 221.7 857.1 224.8 853.4 226.9C849.8 229 844.2 231.1 841.2 232.1C838.2 233 838.7 233.4 835.6 232.3C832.4 231.3 826.5 228.3 822.4 225.9C818.3 223.6 813.6 220.9 811.1 218.4C808.6 215.9 808.1 212.8 807.3 210.9C806.6 209 805.8 208.7 806.9 207.1C808 205.6 810.9 203.4 813.9 201.5C817 199.5 821.6 197 825.2 195.4C828.8 193.7 832.6 192.2 835.6 191.6Z"/>
<path class="d" d="M806.9 207.1C809.2 208.4 815.9 212.2 820.5 214.7C825.1 217.1 832.3 220.5 834.6 221.7M834.6 221.7C835.9 221.2 839 219.8 842.2 218.4C845.3 217 849.4 214.7 853.4 213.2C857.5 211.8 864.1 210.5 866.6 209.5C869.1 208.5 868.2 207.5 868.5 207.1"/>
<path class="d" d="M834.6 221.7C834.8 222.7 835.3 226.1 835.6 227.8C835.9 229.6 836.4 231.6 836.5 232.3"/>
<path class="d" d="M836.5 193.8C835.9 194.4 834.2 196.4 832.7 197.7C831.3 199.1 829 200.7 828 202C827.1 203.2 826.8 204.1 827.1 205.2C827.4 206.4 828.4 207.8 829.9 209C831.5 210.2 834.2 211.6 836.5 212.3C838.9 213 841.2 213.3 844 213.2C846.9 213.2 850.3 212.4 853.4 211.8C856.6 211.3 860.7 210.3 862.9 210C865 209.6 866 209.6 866.6 209.5"/>
<path class="df" d="M872.9 175.6C873.9 174.1 876.5 168.9 878.6 166.9C880.7 164.9 884.3 163.9 885.6 163.6C886.9 163.4 887.1 164 886.3 165.5C885.5 167 881.6 171.6 880.6 172.8" style="stroke-width:0.95"/>
<path class="d" d="M874.3 174.6C875.2 173.6 877.8 169.9 879.5 168.3C881.2 166.8 883.8 165.8 884.7 165.2" style="stroke-width:0.95"/>
<path class="df" d="M861.6 184.3C860.8 183.7 857.8 180.7 856.5 180.6C855.1 180.4 853.9 182.5 853.6 183.4C853.4 184.3 853.6 185.1 855.1 185.7C856.5 186.4 860.9 186.9 862.1 187.2" style="stroke-width:0.95"/>
<path class="d" d="M854.1 183.1C854.2 182.8 854.9 182.4 855.2 182.5C855.6 182.5 856.1 183.3 856 183.7C855.9 184 855.2 184.7 854.9 184.6C854.6 184.5 854 183.5 854.1 183.1Z" style="stroke-width:0.95"/>
<path class="d" d="M882.3 178.2L882.3 189.5M885.2 179.2L885.2 190" style="stroke-width:0.95"/>
<ellipse cx="884.2" cy="191" rx="3.2" ry="1.6" fill="#333"/>
<path class="d" d="M861.6 184.3L880.5 173L907.3 188.6L886.6 198.9Z" style="stroke-width:0.95"/>
<path class="d" d="M866.5 184.3L880.5 175.9L902 188.4L886.7 196.1Z" style="stroke-width:0.95"/>
<path class="d" d="M886.6 198.9L886.8 201.3L907.3 190.5L907.3 188.6" style="stroke-width:0.95"/>
<path class="d" d="M864.5 188.6L864.5 200.8M867.8 190L867.8 200.8" style="stroke-width:0.95"/>
<path class="d" d="M862.1 201.9C862.3 201.5 863.5 201 864.5 200.8C865.4 200.6 867.3 200.8 868 201C868.8 201.2 869.2 201.6 869 202C868.7 202.4 867.5 203.1 866.5 203.2C865.5 203.4 863.8 203.4 863 203.2C862.3 202.9 861.9 202.3 862.1 201.9Z" style="stroke-width:0.95"/>
<path class="d" d="M880.5 198L880.5 209.3M883.7 199.4L883.7 209.3" style="stroke-width:0.95"/>
<path class="d" d="M877.6 210.7C877.9 210.2 879.4 209.5 880.5 209.3C881.5 209.1 883.3 209.2 884 209.5C884.8 209.7 885.2 210.2 885 210.7C884.7 211.1 883.4 211.9 882.3 212.1C881.3 212.3 879.4 212.1 878.6 211.9C877.8 211.7 877.3 211.1 877.6 210.7Z" style="stroke-width:0.95"/>
<path class="d" d="M898.8 196.1L898.8 198.9M901.6 195L901.6 198.9" style="stroke-width:0.95"/>
<path class="d" d="M896.4 199.7C896.7 199.3 897.9 198.9 898.8 198.7C899.7 198.6 901.3 198.7 901.9 198.9C902.5 199.1 902.8 199.7 902.6 200C902.3 200.4 901.1 201.1 900.2 201.3C899.3 201.4 897.8 201.3 897.2 201C896.6 200.7 896.2 200 896.4 199.7Z" style="stroke-width:0.95"/>
<path class="d" d="M876.7 195.2C877.2 195.5 878.9 196.1 879.5 197C880.1 198 880.3 200.2 880.5 200.8" style="stroke-width:0.95"/>
<path class="d" d="M894.6 184.8C894.9 185.2 896 186.4 896.4 187.2C896.9 187.9 897.2 189.1 897.4 189.5" style="stroke-width:0.95"/>
<path class="d" d="M957.1 97.3Q957.7 94.9 959.9 96.1L978.6 106.8Q980.7 108 980.2 110.5L974.7 137.1Q974.2 139.6 972 138.2L952.8 126.3Q950.6 125 951.2 122.5Z"/>
<path class="d" d="M960.2 152.3C959.9 151.6 959.6 151 959.9 150.4C960.2 149.7 959.5 149.5 962 148.6C964.5 147.8 972.1 145.4 975 145.1C977.9 144.8 978.4 146.1 979.3 146.8C980.3 147.5 980.6 148.6 980.5 149.4C980.5 150.3 981.6 150.8 978.9 151.8C976.3 152.8 967.6 155.1 964.7 155.6C961.8 156.2 962.3 155.5 961.5 155C960.8 154.4 960.5 153.1 960.2 152.3Z"/>
<path class="d" d="M960.2 150.7C960.7 151 962.7 151.3 963.4 152.1C964.1 152.9 964.2 154.9 964.4 155.5M963.4 152.1L979.6 147.8"/>
<path class="d" d="M962.2 168.8C962.2 168.3 960.1 168.3 962.8 167.4C965.5 166.6 975.2 164.3 978.2 163.9C981.3 163.4 980.7 164.2 981 164.6C981.4 165 983.2 165.2 980.6 166.2C977.9 167.2 968 169.9 965.1 170.6C962.1 171.3 963.5 170.8 963 170.5C962.5 170.1 962.3 169.3 962.2 168.8Z"/>
<path class="d" d="M963 169L980.3 165"/>
<path d="M976.8 163.4L979.2 159.9L982.5 165.3L979.9 166.2Z" fill="#fff" stroke="#222" stroke-width="1.2" stroke-linejoin="round"/>
<path class="ld" d="M925.7 57.5L925.7 66.8"/>
<path class="ld" d="M889.4 119.4L907.3 119.4"/>
<path class="ld" d="M979.3 120.7L995.8 120.7"/>
<path class="ld" d="M980.1 149.6L996 149.6"/>
<path class="ld" d="M982.5 165.5L999.2 165.5"/>
<path class="ld" d="M907.7 189.3L925.6 189.3"/>
<path class="ld" d="M835.5 173.9L835.5 191.3"/>
<path class="d" d="M123.5 388.6C123.1 387.6 121.6 385.1 121.1 382.4C120.5 379.7 120.2 374.7 120.2 372.3C120.1 369.8 120.2 370 120.7 367.7C121.3 365.5 122.3 362.5 123.5 358.7C124.8 354.9 126.6 349.3 128.1 345.2C129.5 341 130.7 336.8 132 333.9C133.3 331 135.1 328.7 135.7 327.7C135.9 326.9 136 325.1 136.6 323.1C137.2 321.2 138.3 317.9 139.3 315.8C140.4 313.7 141.6 312 142.7 310.7C143.9 309.4 145 308.4 146.1 308.1C147.3 307.8 147.8 308.1 149.5 308.8C151.2 309.5 154 311.2 156.3 312.4C158.5 313.7 161.4 315 163.1 316.4C164.7 317.8 165.3 319.1 166.4 320.9C167.6 322.7 168.9 324.9 169.8 327.1C170.8 329.3 171.5 330.9 172.1 333.9C172.7 336.9 173 341.8 173.2 345.2C173.4 348.5 173.5 350.8 173.2 354.2C172.9 357.6 172.1 362.1 171.5 365.5C171 368.9 170.3 372.1 169.8 374.5C169.4 377 169.2 377.8 168.7 380.2C168.2 382.5 167 387.2 166.7 388.6"/>
<path class="d" d="M138.8 330.3C140.2 330.9 143.4 331.7 147.3 333.9C151.1 336.1 159.5 341.9 161.9 343.5"/>
<path class="d" d="M125.2 381.9C125.9 379.9 127.8 373.9 129.2 370C130.6 366.1 132.2 362.5 133.7 358.7C135.2 354.9 136.9 350.1 138.2 347.4C139.5 344.7 140.1 343.3 141.6 342.3C143.1 341.4 145.2 341.1 147.3 341.8C149.3 342.4 152.2 344.4 154 346.3C155.8 348.2 157.2 350.6 158 353.1C158.7 355.5 158.7 358.1 158.5 361C158.4 363.8 157.6 366.6 156.8 370C156.1 373.4 154.7 378 154 381.3C153.4 384.6 153.1 388.3 152.9 389.8"/>
<path class="d" d="M121.9 389.4L123.5 386.9L124.9 390.1"/>
<path class="d" d="M154 406.4C152.1 405.3 147.6 402.6 142.7 399.9C137.8 397.2 128.8 392 124.7 390.3C120.5 388.6 121.5 389.2 117.9 389.8C114.3 390.3 108.1 391.7 103.2 393.7C98.3 395.7 92.2 399.2 88.5 401.6C84.9 404.1 82.2 406.1 81.2 408.4C80.2 410.6 81.5 412.9 82.3 415.2C83.2 417.4 83.4 419.5 86.3 421.9C89.2 424.4 94.8 427 99.8 429.8C104.9 432.7 113.4 437.4 116.8 438.9C120.2 440.4 118.3 439.4 120.2 438.9C122 438.3 124.9 437.2 128.1 435.5C131.3 433.8 137.5 429.8 139.3 428.7"/>
<path class="d" d="M81.2 408.4C83.9 409.9 92 414.4 97.6 417.4C103.1 420.4 111.7 424.9 114.5 426.4M114.5 426.4C116.4 425.5 121.5 422.8 125.8 420.8C130.1 418.8 136 416.2 140.5 414.6C145 413 150.8 411.8 152.9 411.2"/>
<path class="d" d="M114.5 426.4C114.7 427.6 115.2 431.1 115.6 433.2C116.1 435.3 116.8 437.9 117 438.9"/>
<path class="d" d="M117.9 392C116.8 393 113.2 396.2 111.1 398.2C109.1 400.2 106 402 105.5 403.9C104.9 405.7 106.2 407.9 107.7 409.5C109.2 411.1 111.7 412.4 114.5 413.5C117.3 414.5 121.1 415.6 124.7 415.7C128.2 415.8 132.6 414.7 136 414C139.3 413.4 142.4 412.3 145 411.8C147.6 411.2 150.6 410.8 151.8 410.6"/>
<path class="df" d="M161.9 405C161.6 406.5 161 411.4 159.7 414C158.4 416.7 156.1 419.1 154 420.8C152 422.5 149.6 423.2 147.3 424.2C144.9 425.1 141.2 426.4 139.9 426.4C138.6 426.4 138.1 425.3 139.3 424.2C140.6 423.1 145 421.6 147.3 419.7C149.5 417.8 151.4 415.2 152.9 412.9C154.4 410.6 155.7 407.3 156.3 406.1"/>
<path class="d" d="M154.6 410.1C153.6 411.4 150.5 415.5 148.4 418C146.2 420.4 142.7 423.6 141.6 424.8"/>
<path class="df" d="M154 399.6C154.3 400.3 154.4 403 155.7 403.9C157 404.8 160.4 406.3 161.9 405C163.4 403.7 164.3 397.7 164.7 396.2"/>
<path class="df" d="M142.7 396.2C142.9 395.2 142 394.8 145 393.7C148 392.6 157.4 390.2 160.8 389.8C164.2 389.3 164.3 390.2 165.3 390.9C166.3 391.5 167.2 392.8 167 393.7C166.8 394.6 167.5 395.1 164.2 396.2C160.9 397.3 150.6 399.9 147.3 400.5C143.9 401 144.6 400.3 143.9 399.6C143.1 398.9 142.5 397.2 142.7 396.2Z"/>
<path class="d" d="M143.6 395.7C144.2 396.1 143.6 398.3 147.3 397.8C150.9 397.3 162.3 393.6 165.3 392.8M147.3 397.8L147.5 400.3"/>
<circle cx="163.6" cy="388.1" r="1.5" fill="#444" stroke="#222" stroke-width="0.6"/>
<circle cx="166.4" cy="392.4" r="1.3" fill="#444" stroke="#222" stroke-width="0.6"/>
<path class="d" d="M126.4 436L126.4 447.9M130.3 434.6L130.3 447.9"/>
<path class="d" d="M125.6 449.4C125.6 448.9 125.9 448.3 126.7 448.1C127.5 447.9 129.6 447.9 130.3 448.1C131.1 448.4 131.4 449.1 131.2 449.6C131.1 450.1 130.2 450.8 129.4 451.1C128.6 451.3 127 451.1 126.4 450.8C125.7 450.5 125.5 449.8 125.6 449.4Z" style="stroke-width:1.1"/>
<path class="d" d="M137.7 431L137.7 442.3M141 428.9L141 442.3"/>
<path class="d" d="M136.5 443.6C136.6 443.1 136.8 442.5 137.7 442.3C138.5 442 140.6 442 141.4 442.3C142.2 442.5 142.5 443.2 142.3 443.7C142.1 444.2 141.1 445.2 140.3 445.4C139.4 445.7 137.9 445.5 137.3 445.2C136.7 444.9 136.5 444.1 136.5 443.6Z" style="stroke-width:1.1"/>
<path class="d" d="M392 394.6C391.6 393.6 390.1 391.1 389.6 388.4C389 385.7 388.7 380.7 388.7 378.3C388.6 375.8 388.7 376 389.2 373.7C389.8 371.5 390.8 368.5 392 364.7C393.3 360.9 395.1 355.3 396.6 351.2C398 347 399.2 342.8 400.5 339.9C401.8 337 403.6 334.7 404.2 333.7C404.4 332.9 404.5 331.1 405.1 329.1C405.7 327.2 406.8 323.9 407.8 321.8C408.9 319.7 410.1 318 411.2 316.7C412.4 315.4 413.5 314.4 414.6 314.1C415.8 313.8 416.3 314.1 418 314.8C419.7 315.5 422.5 317.2 424.8 318.4C427 319.7 429.9 321 431.6 322.4C433.2 323.8 433.8 325.1 434.9 326.9C436.1 328.7 437.4 330.9 438.3 333.1C439.3 335.3 440 336.9 440.6 339.9C441.2 342.9 441.5 347.8 441.7 351.2C441.9 354.5 442 356.8 441.7 360.2C441.4 363.6 440.6 368.1 440 371.5C439.5 374.9 438.8 378.1 438.3 380.5C437.9 383 437.7 383.8 437.2 386.2C436.7 388.5 435.5 393.2 435.2 394.6"/>
<path class="d" d="M407.3 336.3C408.7 336.9 411.9 337.7 415.8 339.9C419.6 342.1 428 347.9 430.4 349.5"/>
<path class="d" d="M393.7 387.9C394.4 385.9 396.3 379.9 397.7 376C399.1 372.1 400.7 368.5 402.2 364.7C403.7 360.9 405.4 356.1 406.7 353.4C408 350.7 408.6 349.3 410.1 348.3C411.6 347.4 413.7 347.1 415.8 347.8C417.8 348.4 420.7 350.4 422.5 352.3C424.3 354.2 425.7 356.6 426.5 359.1C427.2 361.5 427.2 364.1 427 367C426.9 369.8 426.1 372.6 425.3 376C424.6 379.4 423.2 384 422.5 387.3C421.9 390.6 421.6 394.3 421.4 395.8"/>
<path class="d" d="M390.4 395.4L392 392.9L393.4 396.1"/>
<path class="d" d="M422.5 412.4C420.6 411.3 416.1 408.6 411.2 405.9C406.3 403.2 397.3 398 393.2 396.3C389 394.6 390 395.2 386.4 395.8C382.8 396.3 376.6 397.7 371.7 399.7C366.8 401.7 360.7 405.2 357 407.6C353.4 410.1 350.7 412.1 349.7 414.4C348.7 416.6 350 418.9 350.8 421.2C351.7 423.4 351.9 425.5 354.8 427.9C357.7 430.4 363.3 433 368.3 435.8C373.4 438.7 381.9 443.4 385.3 444.9C388.7 446.4 386.8 445.4 388.7 444.9C390.5 444.3 393.4 443.2 396.6 441.5C399.8 439.8 406 435.8 407.8 434.7"/>
<path class="d" d="M349.7 414.4C352.4 415.9 360.5 420.4 366.1 423.4C371.6 426.4 380.2 430.9 383 432.4M383 432.4C384.9 431.5 390 428.8 394.3 426.8C398.6 424.8 404.5 422.2 409 420.6C413.5 419 419.3 417.8 421.4 417.2"/>
<path class="d" d="M383 432.4C383.2 433.6 383.7 437.1 384.1 439.2C384.6 441.3 385.3 443.9 385.5 444.9"/>
<path class="d" d="M386.4 398C385.3 399 381.7 402.2 379.6 404.2C377.6 406.2 374.5 408 374 409.9C373.4 411.7 374.7 413.9 376.2 415.5C377.7 417.1 380.2 418.4 383 419.5C385.8 420.5 389.6 421.6 393.2 421.7C396.7 421.8 401.1 420.7 404.5 420C407.8 419.4 410.9 418.3 413.5 417.8C416.1 417.2 419.1 416.8 420.3 416.6"/>
<path class="df" d="M430.4 411C430.1 412.5 429.5 417.4 428.2 420C426.9 422.7 424.6 425.1 422.5 426.8C420.5 428.5 418.1 429.2 415.8 430.2C413.4 431.1 409.7 432.4 408.4 432.4C407.1 432.4 406.6 431.3 407.8 430.2C409.1 429.1 413.5 427.6 415.8 425.7C418 423.8 419.9 421.2 421.4 418.9C422.9 416.6 424.2 413.3 424.8 412.1"/>
<path class="d" d="M423.1 416.1C422.1 417.4 419 421.5 416.9 424C414.7 426.4 411.2 429.6 410.1 430.8"/>
<path class="df" d="M422.5 405.6C422.8 406.3 422.9 409 424.2 409.9C425.5 410.8 428.9 412.3 430.4 411C431.9 409.7 432.8 403.7 433.2 402.2"/>
<path class="df" d="M411.2 402.2C411.4 401.2 410.5 400.8 413.5 399.7C416.5 398.6 425.9 396.2 429.3 395.8C432.7 395.3 432.8 396.2 433.8 396.9C434.8 397.5 435.7 398.8 435.5 399.7C435.3 400.6 436 401.1 432.7 402.2C429.4 403.3 419.1 405.9 415.8 406.5C412.4 407 413.1 406.3 412.4 405.6C411.6 404.9 411 403.2 411.2 402.2Z"/>
<path class="d" d="M412.1 401.7C412.7 402.1 412.1 404.3 415.8 403.8C419.4 403.3 430.8 399.6 433.8 398.8M415.8 403.8L416 406.3"/>
<circle cx="432.1" cy="394.1" r="1.5" fill="#444" stroke="#222" stroke-width="0.6"/>
<circle cx="434.9" cy="398.4" r="1.3" fill="#444" stroke="#222" stroke-width="0.6"/>
<path class="d" d="M394.3 442L394.3 453.9M398.3 440.6L398.3 453.9"/>
<path class="d" d="M393.2 455C393.3 454.5 393.9 453.9 394.9 453.7C395.8 453.5 397.5 453.6 398.8 453.9C400.1 454.2 402.3 455 402.8 455.6C403.2 456.2 403.1 457 401.6 457.3C400.2 457.5 395.7 457.4 394.3 457.1C392.9 456.7 393.1 455.6 393.2 455Z"/>
<path class="d" d="M406.2 437L406.2 447.3M409.5 434.9L409.5 447.8"/>
<path class="d" d="M404.5 448.3C404.6 447.7 405.2 447.2 406.2 447.1C407.1 447 408.9 447.3 410.1 447.8C411.3 448.3 413.1 449.3 413.5 449.9C413.9 450.6 413.7 451.5 412.4 451.6C411 451.7 406.9 451.1 405.6 450.5C404.3 449.9 404.4 448.8 404.5 448.3Z"/>
<path class="d" d="M646.8 389.6C646.4 388.6 644.9 386.1 644.4 383.4C643.8 380.7 643.5 375.7 643.5 373.3C643.4 370.8 643.5 371 644 368.7C644.6 366.5 645.6 363.5 646.8 359.7C648.1 355.9 649.9 350.3 651.4 346.2C652.8 342 654 337.8 655.3 334.9C656.6 332 658.4 329.7 659 328.7C659.2 327.9 659.3 326.1 659.9 324.1C660.5 322.2 661.6 318.9 662.6 316.8C663.7 314.7 664.9 313 666 311.7C667.2 310.4 668.3 309.4 669.4 309.1C670.6 308.8 671.1 309.1 672.8 309.8C674.5 310.5 677.3 312.2 679.6 313.4C681.8 314.7 684.7 316 686.4 317.4C688 318.8 688.6 320.1 689.7 321.9C690.9 323.7 692.2 325.9 693.1 328.1C694.1 330.3 694.8 331.9 695.4 334.9C696 337.9 696.3 342.8 696.5 346.2C696.7 349.5 696.8 351.8 696.5 355.2C696.2 358.6 695.4 363.1 694.8 366.5C694.3 369.9 693.6 373.1 693.1 375.5C692.7 378 692.5 378.8 692 381.2C691.5 383.5 690.3 388.2 690 389.6"/>
<path class="d" d="M662.1 331.3C663.5 331.9 666.7 332.7 670.6 334.9C674.4 337.1 682.8 342.9 685.2 344.5"/>
<path class="d" d="M648.5 382.9C649.2 380.9 651.1 374.9 652.5 371C653.9 367.1 655.5 363.5 657 359.7C658.5 355.9 660.2 351.1 661.5 348.4C662.8 345.7 663.4 344.3 664.9 343.3C666.4 342.4 668.5 342.1 670.6 342.8C672.6 343.4 675.5 345.4 677.3 347.3C679.1 349.2 680.5 351.6 681.3 354.1C682 356.5 682 359.1 681.8 362C681.7 364.8 680.9 367.6 680.1 371C679.4 374.4 678 379 677.3 382.3C676.7 385.6 676.4 389.3 676.2 390.8"/>
<path class="d" d="M645.2 390.4L646.8 387.9L648.2 391.1"/>
<path class="d" d="M677.3 407.4C675.4 406.3 670.9 403.6 666 400.9C661.1 398.2 652.1 393 648 391.3C643.8 389.6 644.8 390.2 641.2 390.8C637.6 391.3 631.4 392.7 626.5 394.7C621.6 396.7 615.5 400.2 611.8 402.6C608.2 405.1 605.5 407.1 604.5 409.4C603.5 411.6 604.8 413.9 605.6 416.2C606.5 418.4 606.7 420.5 609.6 422.9C612.5 425.4 618.1 428 623.1 430.8C628.2 433.7 636.7 438.4 640.1 439.9C643.5 441.4 641.6 440.4 643.5 439.9C645.3 439.3 648.2 438.2 651.4 436.5C654.6 434.8 660.8 430.8 662.6 429.7"/>
<path class="d" d="M604.5 409.4C607.2 410.9 615.3 415.4 620.9 418.4C626.4 421.4 635 425.9 637.8 427.4M637.8 427.4C639.7 426.5 644.8 423.8 649.1 421.8C653.4 419.8 659.3 417.2 663.8 415.6C668.3 414 674.1 412.8 676.2 412.2"/>
<path class="d" d="M637.8 427.4C638 428.6 638.5 432.1 638.9 434.2C639.4 436.3 640.1 438.9 640.3 439.9"/>
<path class="d" d="M641.2 393C640.1 394 636.5 397.2 634.4 399.2C632.4 401.2 629.3 403 628.8 404.9C628.2 406.7 629.5 408.9 631 410.5C632.5 412.1 635 413.4 637.8 414.5C640.6 415.5 644.4 416.6 648 416.7C651.5 416.8 655.9 415.7 659.3 415C662.6 414.4 665.7 413.3 668.3 412.8C670.9 412.2 673.9 411.8 675.1 411.6"/>
<path class="df" d="M685.2 406C684.9 407.5 684.3 412.4 683 415C681.7 417.7 679.4 420.1 677.3 421.8C675.3 423.5 672.9 424.2 670.6 425.2C668.2 426.1 664.5 427.4 663.2 427.4C661.9 427.4 661.4 426.3 662.6 425.2C663.9 424.1 668.3 422.6 670.6 420.7C672.8 418.8 674.7 416.2 676.2 413.9C677.7 411.6 679 408.3 679.6 407.1"/>
<path class="d" d="M677.9 411.1C676.9 412.4 673.8 416.5 671.7 419C669.5 421.4 666 424.6 664.9 425.8"/>
<path class="df" d="M677.3 400.6C677.6 401.3 677.7 404 679 404.9C680.3 405.8 683.7 407.3 685.2 406C686.7 404.7 687.6 398.7 688 397.2"/>
<path class="df" d="M666 397.2C666.2 396.2 665.3 395.8 668.3 394.7C671.3 393.6 680.7 391.2 684.1 390.8C687.5 390.3 687.6 391.2 688.6 391.9C689.6 392.5 690.5 393.8 690.3 394.7C690.1 395.6 690.8 396.1 687.5 397.2C684.2 398.3 673.9 400.9 670.6 401.5C667.2 402 667.9 401.3 667.2 400.6C666.4 399.9 665.8 398.2 666 397.2Z"/>
<path class="d" d="M666.9 396.7C667.5 397.1 666.9 399.3 670.6 398.8C674.2 398.3 685.6 394.6 688.6 393.8M670.6 398.8L670.8 401.3"/>
<circle cx="686.9" cy="389.1" r="1.5" fill="#444" stroke="#222" stroke-width="0.6"/>
<circle cx="689.7" cy="393.4" r="1.3" fill="#444" stroke="#222" stroke-width="0.6"/>
<path class="d" d="M647.4 438.5L649.7 444.9M651.1 437.4L652.7 444.4"/>
<path class="d" d="M645.7 446.1C646.1 445.3 647.4 444.6 648.5 444.4C649.7 444.1 651.7 444 652.5 444.6C653.2 445.2 653.2 446.8 653.1 447.8C652.9 448.8 652.1 450 651.4 450.6C650.6 451.2 649.4 451.4 648.5 451.2C647.7 450.9 646.7 449.7 646.3 448.9C645.8 448 645.3 446.8 645.7 446.1Z" style="stroke-width:1.3"/>
<path class="d" d="M646.8 451.4L645.9 452.8M650.5 450.9L650 452.8"/>
<path class="d" d="M902.8 388.6C902.4 387.6 900.9 385.1 900.4 382.4C899.8 379.7 899.5 374.7 899.5 372.3C899.4 369.8 899.5 370 900 367.7C900.6 365.5 901.6 362.5 902.8 358.7C904.1 354.9 905.9 349.3 907.4 345.2C908.8 341 910 336.8 911.3 333.9C912.6 331 914.4 328.7 915 327.7C915.2 326.9 915.3 325.1 915.9 323.1C916.5 321.2 917.6 317.9 918.6 315.8C919.7 313.7 920.9 312 922 310.7C923.2 309.4 924.3 308.4 925.4 308.1C926.6 307.8 927.1 308.1 928.8 308.8C930.5 309.5 933.3 311.2 935.6 312.4C937.8 313.7 940.7 315 942.4 316.4C944 317.8 944.6 319.1 945.7 320.9C946.9 322.7 948.2 324.9 949.1 327.1C950.1 329.3 950.8 330.9 951.4 333.9C952 336.9 952.3 341.8 952.5 345.2C952.7 348.5 952.8 350.8 952.5 354.2C952.2 357.6 951.4 362.1 950.8 365.5C950.3 368.9 949.6 372.1 949.1 374.5C948.7 377 948.5 377.8 948 380.2C947.5 382.5 946.3 387.2 946 388.6"/>
<path class="d" d="M918.1 330.3C919.5 330.9 922.7 331.7 926.6 333.9C930.4 336.1 938.8 341.9 941.2 343.5"/>
<path class="d" d="M904.5 381.9C905.2 379.9 907.1 373.9 908.5 370C909.9 366.1 911.5 362.5 913 358.7C914.5 354.9 916.2 350.1 917.5 347.4C918.8 344.7 919.4 343.3 920.9 342.3C922.4 341.4 924.5 341.1 926.6 341.8C928.6 342.4 931.5 344.4 933.3 346.3C935.1 348.2 936.5 350.6 937.3 353.1C938 355.5 938 358.1 937.8 361C937.7 363.8 936.9 366.6 936.1 370C935.4 373.4 934 378 933.3 381.3C932.7 384.6 932.4 388.3 932.2 389.8"/>
<path class="d" d="M901.2 389.4L902.8 386.9L904.2 390.1"/>
<path class="d" d="M933.3 406.4C931.4 405.3 926.9 402.6 922 399.9C917.1 397.2 908.1 392 904 390.3C899.8 388.6 900.8 389.2 897.2 389.8C893.6 390.3 887.4 391.7 882.5 393.7C877.6 395.7 871.5 399.2 867.8 401.6C864.2 404.1 861.5 406.1 860.5 408.4C859.5 410.6 860.8 412.9 861.6 415.2C862.5 417.4 862.7 419.5 865.6 421.9C868.5 424.4 874.1 427 879.1 429.8C884.2 432.7 892.7 437.4 896.1 438.9C899.5 440.4 897.6 439.4 899.5 438.9C901.3 438.3 904.2 437.2 907.4 435.5C910.6 433.8 916.8 429.8 918.6 428.7"/>
<path class="d" d="M860.5 408.4C863.2 409.9 871.3 414.4 876.9 417.4C882.4 420.4 891 424.9 893.8 426.4M893.8 426.4C895.7 425.5 900.8 422.8 905.1 420.8C909.4 418.8 915.3 416.2 919.8 414.6C924.3 413 930.1 411.8 932.2 411.2"/>
<path class="d" d="M893.8 426.4C894 427.6 894.5 431.1 894.9 433.2C895.4 435.3 896.1 437.9 896.3 438.9"/>
<path class="d" d="M897.2 392C896.1 393 892.5 396.2 890.4 398.2C888.4 400.2 885.3 402 884.8 403.9C884.2 405.7 885.5 407.9 887 409.5C888.5 411.1 891 412.4 893.8 413.5C896.6 414.5 900.4 415.6 904 415.7C907.5 415.8 911.9 414.7 915.3 414C918.6 413.4 921.7 412.3 924.3 411.8C926.9 411.2 929.9 410.8 931.1 410.6"/>
<path class="df" d="M941.2 405C940.9 406.5 940.3 411.4 939 414C937.7 416.7 935.4 419.1 933.3 420.8C931.3 422.5 928.9 423.2 926.6 424.2C924.2 425.1 920.5 426.4 919.2 426.4C917.9 426.4 917.4 425.3 918.6 424.2C919.9 423.1 924.3 421.6 926.6 419.7C928.8 417.8 930.7 415.2 932.2 412.9C933.7 410.6 935 407.3 935.6 406.1"/>
<path class="d" d="M933.9 410.1C932.9 411.4 929.8 415.5 927.7 418C925.5 420.4 922 423.6 920.9 424.8"/>
<path class="df" d="M933.3 399.6C933.6 400.3 933.7 403 935 403.9C936.3 404.8 939.7 406.3 941.2 405C942.7 403.7 943.6 397.7 944 396.2"/>
<path class="df" d="M922 396.2C922.2 395.2 921.3 394.8 924.3 393.7C927.3 392.6 936.7 390.2 940.1 389.8C943.5 389.3 943.6 390.2 944.6 390.9C945.6 391.5 946.5 392.8 946.3 393.7C946.1 394.6 946.8 395.1 943.5 396.2C940.2 397.3 929.9 399.9 926.6 400.5C923.2 401 923.9 400.3 923.2 399.6C922.4 398.9 921.8 397.2 922 396.2Z"/>
<path class="d" d="M922.9 395.7C923.5 396.1 922.9 398.3 926.6 397.8C930.2 397.3 941.6 393.6 944.6 392.8M926.6 397.8L926.8 400.3"/>
<circle cx="942.9" cy="388.1" r="1.5" fill="#444" stroke="#222" stroke-width="0.6"/>
<circle cx="945.7" cy="392.4" r="1.3" fill="#444" stroke="#222" stroke-width="0.6"/>
<path class="d" d="M877.4 429.3L877.4 434.3M880.8 431.2L880.8 434.9"/>
<path class="d" d="M875.7 434.9C875.8 434.3 877 433.9 878 433.8C879 433.7 880.9 433.9 882 434.3C883 434.8 884.1 435.9 884.2 436.6C884.3 437.3 883.7 438.2 882.5 438.3C881.4 438.4 878.6 437.7 877.4 437.2C876.3 436.6 875.7 435.5 875.7 434.9Z"/>
<path class="d" d="M895.5 438.9L895.5 445.4M898.9 438.1L898.9 445.1"/>
<path class="d" d="M891.6 447.9C891.8 447.3 893.6 445.9 894.9 445.4C896.3 444.9 898.5 444.8 899.5 445.1C900.4 445.3 901.2 446.1 900.8 446.8C900.4 447.4 898.5 448.4 897.2 448.8C895.9 449.2 894.2 449.2 893.2 449C892.3 448.9 891.3 448.5 891.6 447.9Z"/>
<path class="d" d="M917.5 430.1L917.5 432.3M920.3 428.7L920.3 432.1"/>
<path class="d" d="M915.3 433.2C915.4 432.7 916.6 432.1 917.5 431.9C918.5 431.7 920.2 431.8 920.9 432.1C921.7 432.4 922.2 433.2 922 433.8C921.8 434.3 920.7 435.2 919.8 435.5C918.8 435.7 917.1 435.6 916.4 435.3C915.6 434.9 915.1 433.8 915.3 433.2Z"/>
<g transform="translate(106.6 658) scale(0.979 0.988) translate(-106.6 -658)">
<path class="d" d="M108.6 614.4C108.4 613.5 107.4 610.8 107.2 608.8C107 606.7 107.2 604.2 107.5 602.1C107.7 600.1 108 599 108.6 596.7C109.2 594.4 110 591 111 588.2C111.9 585.4 113.1 581.9 114.2 579.8C115.4 577.6 117.2 576 117.8 575.2C117.9 574.7 118 573.4 118.4 572.2C118.7 571 119.2 569.3 119.9 568C120.5 566.7 121.4 565.1 122.2 564.2C123.1 563.4 123.9 562.7 125.1 562.8C126.2 562.9 127.7 563.8 129.3 564.7C130.9 565.6 133 566.7 134.5 568C136 569.3 137.1 570.4 138.2 572.2C139.3 574 140.3 576.6 141.1 578.8C141.8 581 142.1 583.3 142.5 585.4C142.8 587.5 143.1 590.5 143.2 591.5"/>
<path class="d" d="M119.4 577.4C120.4 577.9 122.9 578.7 125.5 580.2C128.1 581.8 133.4 585.7 134.9 586.8"/>
<path class="d" d="M110.5 611.7C111 610.5 112.2 607.4 113.3 604.2C114.4 601.1 116 595.7 117.1 592.9C118.1 590.2 118.5 589 119.4 587.8C120.4 586.5 121.4 585.7 122.7 585.6C124 585.4 126 586.1 127.4 586.8C128.8 587.6 130.2 588.8 131.2 590.1C132.1 591.4 132.8 592.8 133.1 594.8C133.3 596.8 133 599.5 132.6 602.3C132.2 605.2 131.3 608.6 130.7 611.7C130.2 614.9 129.5 618.9 129.3 621.2C129.1 623.5 129.4 624.6 129.8 625.7C130.2 626.8 131.3 627.7 131.6 628.1"/>
<path class="d" d="M134 627.6C134 626.2 133.7 622.1 134 619.1C134.3 616.1 134.9 612.8 135.9 609.7C136.8 606.6 138.5 603.2 139.6 600.3C140.8 597.3 142.2 594 142.9 592C143.7 590 143.9 589.6 144.3 588.2C144.8 586.8 145.1 584.9 145.8 583.5C146.4 582.1 147.2 580.7 148.1 579.8C149.1 578.8 150.1 577.8 151.4 577.9C152.7 577.9 153.7 579 155.6 579.9C157.6 580.9 161.4 582.1 163.2 583.5C164.9 584.9 165.1 586.2 166 588.2C166.8 590.3 167.7 593.1 168.3 595.8C169 598.4 169.5 601.6 169.7 604.2C170 606.9 170 608.9 169.7 611.7C169.5 614.6 169.1 617.9 168.3 621.2C167.6 624.5 166.1 627.9 165 631.3C164 634.8 162.9 639.6 162.2 641.7C161.5 643.8 161.6 643.4 160.8 643.8C160 644.2 158.1 644 157.5 644"/>
<path class="d" d="M109.5 615.8L132.1 628.5M136.8 632.8L157.5 644"/>
<path class="d" d="M146.2 592.9C147.5 593.5 151.2 594.7 153.8 596.2C156.3 597.7 160.4 600.9 161.8 601.9"/>
<path class="d" d="M136.8 627.1C137.3 625.8 138.5 622.2 139.6 619.1C140.7 616.1 142.2 611.6 143.4 608.8C144.7 605.9 146 603.5 147.2 602.1C148.3 600.8 149.1 600.4 150.5 600.5C151.9 600.5 154.1 601.2 155.6 602.3C157.1 603.4 158.6 605.2 159.4 607C160.2 608.9 160.5 611.3 160.3 613.6C160.2 616 159.2 617.7 158.5 621C157.8 624.3 156.5 630.1 156.1 633.2C155.7 636.4 155.9 638.1 156.1 639.8C156.3 641.5 157.3 642.9 157.5 643.6"/>
<path class="d" d="M108.8 614.9C108.6 615.6 108.3 617.9 107.8 619.1C107.4 620.4 107.5 621.2 106.2 622.4C105 623.6 101.6 625.1 100.3 626.1C99.1 627.1 98.8 627.6 98.7 628.3C98.6 629.1 99.1 630.3 99.7 630.6C100.2 630.9 101 630.6 102 630.2C103 629.9 104.4 629.5 105.8 628.5C107.2 627.6 109.4 625.7 110.5 624.5C111.5 623.3 111.8 622.4 112.2 621.5C112.6 620.6 112.6 619.4 112.7 619" style="stroke-width:1"/>
<path class="d" d="M99.7 629C99.7 628.8 100.1 628.3 100.3 628.3C100.6 628.3 101.1 628.9 101.1 629.1C101.1 629.3 100.6 629.8 100.3 629.7C100.1 629.7 99.7 629.2 99.7 629Z"/>
<path class="d" d="M157.2 642.6C156.8 643.6 155.9 646.8 154.9 648.5C153.9 650.1 152.5 651.4 151.4 652.5C150.3 653.6 149 654.3 148.3 655.1C147.6 655.8 147 656.5 147 657.1C147 657.7 147.7 658.5 148.3 658.7C148.9 658.9 149.6 658.5 150.5 658.2C151.3 657.8 151.8 657.7 153.3 656.4C154.8 655 158.1 651.8 159.4 650.2C160.7 648.5 160.9 647.6 161.3 646.4C161.7 645.2 161.7 643.7 161.8 643.2" style="stroke-width:1"/>
<path class="d" d="M158.5 645C158.1 645.8 157.1 648.3 156.1 649.7C155.1 651.1 153 652.8 152.3 653.5"/>
<path d="M131.6 628.1L134.5 627.6L136.8 632.3L137.8 633.7L135.9 634.6L134.9 637L133.5 636.5L133.1 634.2L131.2 634.6L130.7 633.2L132.6 632.3Z" fill="#fff" stroke="#222" stroke-width="0.9" stroke-linejoin="round"/>
<path d="M131.2 633.2L133.1 632.8L133.5 636L134.9 636.8L135.9 634.6L137.3 633.7" fill="none" stroke="#222" stroke-width="1.3"/>
</g>
<path class="d" d="M97.8 642.9L97.8 660.3M100.6 644.3L100.6 660.8" style="stroke-width:0.95"/>
<ellipse cx="98.7" cy="661.6" rx="2.8" ry="1.5" fill="#444" stroke="#222" stroke-width="0.6"/>
<path class="df" d="M140.1 668.5C140.5 667.6 143.6 665.9 145.3 664.8C146.9 663.6 148.9 661.9 150 661.6C151 661.2 152 661.9 151.7 662.9C151.3 663.8 149.4 666 147.9 667.2C146.4 668.4 143.9 670 142.6 670.2C141.3 670.4 139.6 669.4 140.1 668.5Z" style="stroke-width:0.9"/>
<path class="d" d="M78 646.2L93.5 637.3L141.5 665.5L124.6 674.9Z" style="stroke-width:0.95"/>
<path class="d" d="M82.7 646.3L93.5 640.1L136.7 665.4L124.6 672.1Z" style="stroke-width:0.95"/>
<path class="d" d="M124.6 674.9L124.8 677L141.5 667.4L141.5 665.5" style="stroke-width:0.95"/>
<path class="df" d="M102.9 658.9L114.2 652.8L116.1 654.2L104.8 660.3" style="stroke-width:0.95"/>
<path class="df" d="M116.1 651.6L118.9 646.2L121.6 647.2L119.1 652.5Z" style="stroke-width:0.95"/>
<path d="M118.9 646.2L121.6 647.2L120.8 648.6L118.4 647.6Z" fill="#222"/>
<circle cx="116.3" cy="655.3" r="1.3" fill="#222"/>
<circle cx="112.5" cy="652.5" r="1.0" fill="#222"/>
<path class="d" d="M83.6 651.4L83.6 668.8M86.5 652.8L86.5 668.8" style="stroke-width:0.95"/>
<path class="d" d="M81.5 669.5C81.7 669.1 82.8 668.6 83.6 668.5C84.5 668.4 86.1 668.5 86.7 668.7C87.4 668.9 87.7 669.5 87.5 669.8C87.3 670.2 86.4 670.8 85.5 671C84.6 671.1 82.9 671 82.2 670.8C81.6 670.5 81.2 669.8 81.5 669.5Z" style="stroke-width:0.95"/>
<path class="d" d="M86.5 655.2L91.6 652.3M86.5 657L97.8 651.4" style="stroke-width:0.95"/>
<ellipse cx="129.1" cy="675.9" rx="3" ry="1.6" fill="#444" stroke="#222" stroke-width="0.6"/>
<path class="d" d="M20.9 668.7C21.7 668 23 666.1 25.6 664.5C28.3 662.9 33.8 660.6 36.9 659.2C40.1 657.8 42.1 656.5 44.4 656.2C46.8 655.9 48.4 656.3 51 657.3C53.7 658.4 57.1 660.7 60.4 662.6C63.7 664.5 69 667.3 70.8 668.7C72.5 670.1 70.9 670.7 71 671.1"/>
<path class="d" d="M45.9 689.4C45.3 689.3 44.8 690 42.6 688.9C40.3 687.8 35.4 684.8 32.2 682.8C29.1 680.9 25.6 679 23.7 677.2C21.9 675.3 21.9 672.9 21.4 671.5C20.9 670.1 21 669.2 20.9 668.7"/>
<path class="d" d="M20.9 668.7C22.8 669.7 28.3 672.7 32.2 674.8C36.1 676.9 42.4 680.3 44.4 681.4M44.4 681.4C45.5 680.9 48.4 679.8 51 678.6C53.7 677.3 57.3 675.1 60.4 673.9C63.6 672.6 68.3 671.5 69.8 671.1"/>
<path class="d" d="M44.4 681.4C44.5 682 44.7 683.8 44.9 685.2C45.1 686.5 45.7 688.7 45.9 689.4"/>
<path class="d" d="M44.9 658.4C44.2 659 42 660.9 40.7 662.1C39.3 663.3 37.4 664.2 36.9 665.4C36.4 666.6 36.9 668 37.9 669.2C38.8 670.3 40.7 671.7 42.6 672.5C44.4 673.2 47 673.8 49.1 673.9C51.3 674 53.2 673.4 55.7 672.9C58.2 672.5 62 671.5 64.2 671.1C66.4 670.6 68.1 670.3 68.9 670.1"/>
<path class="d" d="M45.9 689.4C46.1 689 46.8 687.9 47.3 687C47.7 686.2 48.2 684.7 48.4 684.2"/>
<path class="d" d="M48.2 683.3C48.9 681.9 50.6 680.9 52.9 679.5C55.3 678.1 59.2 676.1 62.3 674.8C65.5 673.5 69.2 671.9 71.7 671.5C74.2 671.1 74.9 671.4 77.4 672.5C79.9 673.5 83.6 676 86.8 677.8C89.9 679.6 94.5 681.6 96.2 683.3C97.9 685 97.6 686.4 97.1 688C96.7 689.6 94.8 691.3 93.4 692.7C92 694.1 90.7 695 88.7 696.5C86.6 697.9 83.6 699.8 81.1 701.2C78.6 702.5 75.5 703.9 73.6 704.4C71.7 705 72.4 705.5 69.8 704.4C67.3 703.4 61.7 700.2 58.6 698.3C55.4 696.5 52.7 694.9 51 693.2C49.4 691.4 49.1 689.6 48.7 688C48.2 686.3 47.5 684.7 48.2 683.3Z"/>
<path class="d" d="M48.2 683.3C49.9 684.3 54.9 687.3 58.6 689.4C62.2 691.5 68.4 694.9 70.3 696M70.3 696C71.8 695.4 76.2 693.5 79.3 692.2C82.3 691 85.8 689.5 88.7 688.5C91.5 687.4 94.9 686.5 96.2 686.1"/>
<path class="d" d="M70.3 696C70.4 696.7 70.6 698.8 70.8 700.2C70.9 701.6 71.2 703.7 71.3 704.4"/>
<path class="d" d="M70.8 673.4C70 674 67.3 675.9 66.1 677.2C64.9 678.4 63.7 679.6 63.7 680.9C63.7 682.3 64.4 683.8 66.1 685.2C67.7 686.5 71.1 688.4 73.6 688.9C76.1 689.5 78.6 688.8 81.1 688.5C83.6 688.1 86.3 687.5 88.7 687C91 686.6 94.1 685.9 95.2 685.6"/>
<path class="d" d="M81.3 585.7C81.1 585.2 81.2 584.5 81.6 583.9C81.9 583.4 81.4 583.3 83.4 582.6C85.4 581.9 91.3 580.1 93.5 579.9C95.8 579.6 96 580.5 96.7 581C97.4 581.4 97.7 582 97.6 582.6C97.5 583.1 98.4 583.4 96.4 584.3C94.3 585.1 87.7 587.2 85.4 587.7C83.2 588.1 83.5 587.4 82.8 587.1C82.1 586.8 81.6 586.3 81.3 585.7Z"/>
<path class="d" d="M81.8 584.2C82.3 584.3 83.9 584.7 84.5 585.3C85.1 585.9 85.3 587.2 85.4 587.5M84.5 585.3L97.2 581.9"/>
<path class="d" d="M82.8 595.9C82.8 595.5 81 595.2 83.4 594.4C85.7 593.6 94.3 591.5 96.9 591C99.6 590.6 98.9 591.2 99.2 591.6C99.5 592 101 592.5 98.7 593.4C96.5 594.3 88.4 596.4 85.9 597C83.3 597.6 84.1 597.2 83.6 597C83.1 596.8 82.9 596.3 82.8 595.9Z"/>
<path class="d" d="M83.6 595.6L98.5 592.1"/>
<path d="M98.6 590.5L100.9 590.3L102 592.7L99.7 595.6L98.1 593.9Z" fill="#111" stroke="#111" stroke-width="0.8"/>
<path class="ld" d="M64.2 584.3L81.7 584.3"/>
<path class="ld" d="M65.3 595.2L83.4 595.2"/>
<path class="ld" d="M89 606.3L106.5 606.3"/>
<path class="ld" d="M59.7 646.8L77.7 646.8"/>
<path class="ld" d="M41 688L41 704.9"/>
<path class="ld" d="M89 695.9L104.8 695.9"/>
<path class="d" d="M176.9 591.5Q177.6 588.6 180.2 590.2L193.4 597.9Q196 599.5 195.3 602.4L191.4 621Q190.8 623.9 188.3 622.3L174.5 613.3Q172 611.7 172.7 608.8Z"/>
<path d="M183.5 570.8L200.2 580.6L196.9 595.7L180.4 586.3Z" fill="url(#net)" stroke="#111" stroke-width="0.9" stroke-linejoin="round"/>
<path class="d" d="M188.3 568.6L190.8 567.7L199.2 572.4L198.9 574.3" style="stroke-width:2.2;stroke:#222"/>
<path class="d" d="M189.1 568.5L190.8 568.2L198.3 572.5" style="stroke-width:0.6;stroke:#ddd"/>
<path class="ld" d="M199.7 571.7L217.7 571.7"/>
<path class="ld" d="M199.1 586.6L216 586.6"/>
<path class="ld" d="M193.5 611.8L210.4 611.8"/>
<path class="ld" d="M165.2 630.9L182.2 630.9"/>
<g transform="translate(630.6 658) scale(0.979 0.988) translate(-630.6 -658)">
<path class="d" d="M632.6 614.4C632.4 613.5 631.4 610.8 631.2 608.8C631 606.7 631.2 604.2 631.5 602.1C631.7 600.1 632 599 632.6 596.7C633.2 594.4 634 591 635 588.2C635.9 585.4 637.1 581.9 638.2 579.8C639.4 577.6 641.2 576 641.8 575.2C641.9 574.7 642 573.4 642.4 572.2C642.7 571 643.2 569.3 643.9 568C644.5 566.7 645.4 565.1 646.2 564.2C647.1 563.4 647.9 562.7 649.1 562.8C650.2 562.9 651.7 563.8 653.3 564.7C654.9 565.6 657 566.7 658.5 568C660 569.3 661.1 570.4 662.2 572.2C663.3 574 664.3 576.6 665.1 578.8C665.8 581 666.1 583.3 666.5 585.4C666.8 587.5 667.1 590.5 667.2 591.5"/>
<path class="d" d="M643.4 577.4C644.4 577.9 646.9 578.7 649.5 580.2C652.1 581.8 657.4 585.7 658.9 586.8"/>
<path class="d" d="M634.5 611.7C635 610.5 636.2 607.4 637.3 604.2C638.4 601.1 640 595.7 641.1 592.9C642.1 590.2 642.5 589 643.4 587.8C644.4 586.5 645.4 585.7 646.7 585.6C648 585.4 650 586.1 651.4 586.8C652.8 587.6 654.2 588.8 655.2 590.1C656.1 591.4 656.8 592.8 657.1 594.8C657.3 596.8 657 599.5 656.6 602.3C656.2 605.2 655.3 608.6 654.7 611.7C654.2 614.9 653.5 618.9 653.3 621.2C653.1 623.5 653.4 624.6 653.8 625.7C654.2 626.8 655.3 627.7 655.6 628.1"/>
<path class="d" d="M658 627.6C658 626.2 657.7 622.1 658 619.1C658.3 616.1 658.9 612.8 659.9 609.7C660.8 606.6 662.5 603.2 663.6 600.3C664.8 597.3 666.2 594 666.9 592C667.7 590 667.9 589.6 668.3 588.2C668.8 586.8 669.1 584.9 669.8 583.5C670.4 582.1 671.2 580.7 672.1 579.8C673.1 578.8 674.1 577.8 675.4 577.9C676.7 577.9 677.7 579 679.6 579.9C681.6 580.9 685.4 582.1 687.2 583.5C688.9 584.9 689.1 586.2 690 588.2C690.8 590.3 691.7 593.1 692.3 595.8C693 598.4 693.5 601.6 693.7 604.2C694 606.9 694 608.9 693.7 611.7C693.5 614.6 693.1 617.9 692.3 621.2C691.6 624.5 690.1 627.9 689 631.3C688 634.8 686.9 639.6 686.2 641.7C685.5 643.8 685.6 643.4 684.8 643.8C684 644.2 682.1 644 681.5 644"/>
<path class="d" d="M633.5 615.8L656.1 628.5M660.8 632.8L681.5 644"/>
<path class="d" d="M670.2 592.9C671.5 593.5 675.2 594.7 677.8 596.2C680.3 597.7 684.4 600.9 685.8 601.9"/>
<path class="d" d="M660.8 627.1C661.3 625.8 662.5 622.2 663.6 619.1C664.7 616.1 666.2 611.6 667.4 608.8C668.7 605.9 670 603.5 671.2 602.1C672.3 600.8 673.1 600.4 674.5 600.5C675.9 600.5 678.1 601.2 679.6 602.3C681.1 603.4 682.6 605.2 683.4 607C684.2 608.9 684.5 611.3 684.3 613.6C684.2 616 683.2 617.7 682.5 621C681.8 624.3 680.5 630.1 680.1 633.2C679.7 636.4 679.9 638.1 680.1 639.8C680.3 641.5 681.3 642.9 681.5 643.6"/>
<path class="d" d="M632.8 614.9C632.6 615.6 632.3 617.9 631.8 619.1C631.4 620.4 631.5 621.2 630.2 622.4C629 623.6 625.6 625.1 624.3 626.1C623.1 627.1 622.8 627.6 622.7 628.3C622.6 629.1 623.1 630.3 623.7 630.6C624.2 630.9 625 630.6 626 630.2C627 629.9 628.4 629.5 629.8 628.5C631.2 627.6 633.4 625.7 634.5 624.5C635.5 623.3 635.8 622.4 636.2 621.5C636.6 620.6 636.6 619.4 636.7 619" style="stroke-width:1"/>
<path class="d" d="M623.7 629C623.7 628.8 624.1 628.3 624.3 628.3C624.6 628.3 625.1 628.9 625.1 629.1C625.1 629.3 624.6 629.8 624.3 629.7C624.1 629.7 623.7 629.2 623.7 629Z"/>
<path class="d" d="M681.2 642.6C680.8 643.6 679.9 646.8 678.9 648.5C677.9 650.1 676.5 651.4 675.4 652.5C674.3 653.6 673 654.3 672.3 655.1C671.6 655.8 671 656.5 671 657.1C671 657.7 671.7 658.5 672.3 658.7C672.9 658.9 673.6 658.5 674.5 658.2C675.3 657.8 675.8 657.7 677.3 656.4C678.8 655 682.1 651.8 683.4 650.2C684.7 648.5 684.9 647.6 685.3 646.4C685.7 645.2 685.7 643.7 685.8 643.2" style="stroke-width:1"/>
<path class="d" d="M682.5 645C682.1 645.8 681.1 648.3 680.1 649.7C679.1 651.1 677 652.8 676.3 653.5"/>
<path d="M655.6 628.1L658.5 627.6L660.8 632.3L661.8 633.7L659.9 634.6L658.9 637L657.5 636.5L657.1 634.2L655.2 634.6L654.7 633.2L656.6 632.3Z" fill="#fff" stroke="#222" stroke-width="0.9" stroke-linejoin="round"/>
<path d="M655.2 633.2L657.1 632.8L657.5 636L658.9 636.8L659.9 634.6L661.3 633.7" fill="none" stroke="#222" stroke-width="1.3"/>
</g>
<path class="d" d="M621.8 642.9L621.8 660.3M624.6 644.3L624.6 660.8" style="stroke-width:0.95"/>
<ellipse cx="622.7" cy="661.6" rx="2.8" ry="1.5" fill="#444" stroke="#222" stroke-width="0.6"/>
<path class="df" d="M664.1 668.5C664.5 667.6 667.6 665.9 669.3 664.8C670.9 663.6 672.9 661.9 674 661.6C675 661.2 676 661.9 675.7 662.9C675.3 663.8 673.4 666 671.9 667.2C670.4 668.4 667.9 670 666.6 670.2C665.3 670.4 663.6 669.4 664.1 668.5Z" style="stroke-width:0.9"/>
<path class="d" d="M602 646.2L617.5 637.3L665.5 665.5L648.6 674.9Z" style="stroke-width:0.95"/>
<path class="d" d="M606.7 646.3L617.5 640.1L660.7 665.4L648.6 672.1Z" style="stroke-width:0.95"/>
<path class="d" d="M648.6 674.9L648.8 677L665.5 667.4L665.5 665.5" style="stroke-width:0.95"/>
<path class="df" d="M626.9 658.9L638.2 652.8L640.1 654.2L628.8 660.3" style="stroke-width:0.95"/>
<path class="df" d="M640.1 651.6L642.9 646.2L645.6 647.2L643.1 652.5Z" style="stroke-width:0.95"/>
<path d="M642.9 646.2L645.6 647.2L644.8 648.6L642.4 647.6Z" fill="#222"/>
<circle cx="640.3" cy="655.3" r="1.3" fill="#222"/>
<circle cx="636.5" cy="652.5" r="1.0" fill="#222"/>
<path class="d" d="M607.6 651.4L607.6 668.8M610.5 652.8L610.5 668.8" style="stroke-width:0.95"/>
<path class="d" d="M605.5 669.5C605.7 669.1 606.8 668.6 607.6 668.5C608.5 668.4 610.1 668.5 610.7 668.7C611.4 668.9 611.7 669.5 611.5 669.8C611.3 670.2 610.4 670.8 609.5 671C608.6 671.1 606.9 671 606.2 670.8C605.6 670.5 605.2 669.8 605.5 669.5Z" style="stroke-width:0.95"/>
<path class="d" d="M610.5 655.2L615.6 652.3M610.5 657L621.8 651.4" style="stroke-width:0.95"/>
<ellipse cx="653.1" cy="675.9" rx="3" ry="1.6" fill="#444" stroke="#222" stroke-width="0.6"/>
<path class="d" d="M544.9 668.7C545.7 668 547 666.1 549.6 664.5C552.3 662.9 557.8 660.6 560.9 659.2C564.1 657.8 566.1 656.5 568.4 656.2C570.8 655.9 572.4 656.3 575 657.3C577.7 658.4 581.1 660.7 584.4 662.6C587.7 664.5 593 667.3 594.8 668.7C596.5 670.1 594.9 670.7 595 671.1"/>
<path class="d" d="M569.9 689.4C569.3 689.3 568.8 690 566.6 688.9C564.3 687.8 559.4 684.8 556.2 682.8C553.1 680.9 549.6 679 547.7 677.2C545.9 675.3 545.9 672.9 545.4 671.5C544.9 670.1 545 669.2 544.9 668.7"/>
<path class="d" d="M544.9 668.7C546.8 669.7 552.3 672.7 556.2 674.8C560.1 676.9 566.4 680.3 568.4 681.4M568.4 681.4C569.5 680.9 572.4 679.8 575 678.6C577.7 677.3 581.3 675.1 584.4 673.9C587.6 672.6 592.3 671.5 593.8 671.1"/>
<path class="d" d="M568.4 681.4C568.5 682 568.7 683.8 568.9 685.2C569.1 686.5 569.7 688.7 569.9 689.4"/>
<path class="d" d="M568.9 658.4C568.2 659 566 660.9 564.7 662.1C563.3 663.3 561.4 664.2 560.9 665.4C560.4 666.6 560.9 668 561.9 669.2C562.8 670.3 564.7 671.7 566.6 672.5C568.4 673.2 571 673.8 573.1 673.9C575.3 674 577.2 673.4 579.7 672.9C582.2 672.5 586 671.5 588.2 671.1C590.4 670.6 592.1 670.3 592.9 670.1"/>
<path class="d" d="M569.9 689.4C570.1 689 570.8 687.9 571.3 687C571.7 686.2 572.2 684.7 572.4 684.2"/>
<path class="d" d="M572.2 683.3C572.9 681.9 574.6 680.9 576.9 679.5C579.3 678.1 583.2 676.1 586.3 674.8C589.5 673.5 593.2 671.9 595.7 671.5C598.2 671.1 598.9 671.4 601.4 672.5C603.9 673.5 607.6 676 610.8 677.8C613.9 679.6 618.5 681.6 620.2 683.3C621.9 685 621.6 686.4 621.1 688C620.7 689.6 618.8 691.3 617.4 692.7C616 694.1 614.7 695 612.7 696.5C610.6 697.9 607.6 699.8 605.1 701.2C602.6 702.5 599.5 703.9 597.6 704.4C595.7 705 596.4 705.5 593.8 704.4C591.3 703.4 585.7 700.2 582.6 698.3C579.4 696.5 576.7 694.9 575 693.2C573.4 691.4 573.1 689.6 572.7 688C572.2 686.3 571.5 684.7 572.2 683.3Z"/>
<path class="d" d="M572.2 683.3C573.9 684.3 578.9 687.3 582.6 689.4C586.2 691.5 592.4 694.9 594.3 696M594.3 696C595.8 695.4 600.2 693.5 603.3 692.2C606.3 691 609.8 689.5 612.7 688.5C615.5 687.4 618.9 686.5 620.2 686.1"/>
<path class="d" d="M594.3 696C594.4 696.7 594.6 698.8 594.8 700.2C594.9 701.6 595.2 703.7 595.3 704.4"/>
<path class="d" d="M594.8 673.4C594 674 591.3 675.9 590.1 677.2C588.9 678.4 587.7 679.6 587.7 680.9C587.7 682.3 588.4 683.8 590.1 685.2C591.7 686.5 595.1 688.4 597.6 688.9C600.1 689.5 602.6 688.8 605.1 688.5C607.6 688.1 610.3 687.5 612.7 687C615 686.6 618.1 685.9 619.2 685.6"/>
<path class="d" d="M605.3 585.7C605.1 585.2 605.2 584.5 605.6 583.9C605.9 583.4 605.4 583.3 607.4 582.6C609.4 581.9 615.3 580.1 617.5 579.9C619.8 579.6 620 580.5 620.7 581C621.4 581.4 621.7 582 621.6 582.6C621.5 583.1 622.4 583.4 620.4 584.3C618.3 585.1 611.7 587.2 609.4 587.7C607.2 588.1 607.5 587.4 606.8 587.1C606.1 586.8 605.6 586.3 605.3 585.7Z"/>
<path class="d" d="M605.8 584.2C606.3 584.3 607.9 584.7 608.5 585.3C609.1 585.9 609.3 587.2 609.4 587.5M608.5 585.3L621.2 581.9"/>
<path class="d" d="M606.8 595.9C606.8 595.5 605 595.2 607.4 594.4C609.7 593.6 618.3 591.5 620.9 591C623.6 590.6 622.9 591.2 623.2 591.6C623.5 592 625 592.5 622.7 593.4C620.5 594.3 612.4 596.4 609.9 597C607.3 597.6 608.1 597.2 607.6 597C607.1 596.8 606.9 596.3 606.8 595.9Z"/>
<path class="d" d="M607.6 595.6L622.5 592.1"/>
<path d="M622.6 590.5L624.9 590.3L626 592.7L623.7 595.6L622.1 593.9Z" fill="#111" stroke="#111" stroke-width="0.8"/>
<path class="ld" d="M588.2 584.3L605.7 584.3"/>
<path class="ld" d="M589.3 595.2L607.4 595.2"/>
<path class="ld" d="M613 606.3L630.5 606.3"/>
<path class="ld" d="M583.7 646.8L601.7 646.8"/>
<path class="ld" d="M565 688L565 704.9"/>
<path class="ld" d="M613 695.9L628.8 695.9"/>
<path class="d" d="M700.9 591.5Q701.6 588.6 704.2 590.2L717.4 597.9Q720 599.5 719.3 602.4L715.4 621Q714.8 623.9 712.3 622.3L698.5 613.3Q696 611.7 696.7 608.8Z"/>
<path d="M707.5 570.8L724.2 580.6L720.9 595.7L704.4 586.3Z" fill="url(#net)" stroke="#111" stroke-width="0.9" stroke-linejoin="round"/>
<path class="d" d="M712.3 568.6L714.8 567.7L723.2 572.4L722.9 574.3" style="stroke-width:2.2;stroke:#222"/>
<path class="d" d="M713.1 568.5L714.8 568.2L722.3 572.5" style="stroke-width:0.6;stroke:#ddd"/>
<path class="ld" d="M723.7 571.7L741.7 571.7"/>
<path class="ld" d="M723.1 586.6L740 586.6"/>
<path class="ld" d="M717.5 611.8L734.4 611.8"/>
<path class="ld" d="M689.2 630.9L706.2 630.9"/>
<g transform="translate(911.6 657) scale(0.979 0.988) translate(-911.6 -657)">
<path class="d" d="M913.6 613.4C913.4 612.5 912.4 609.8 912.2 607.8C912 605.7 912.2 603.2 912.5 601.1C912.7 599.1 913 598 913.6 595.7C914.2 593.4 915 590 916 587.2C916.9 584.4 918.1 580.9 919.2 578.8C920.4 576.6 922.2 575 922.8 574.2C922.9 573.7 923 572.4 923.4 571.2C923.7 570 924.2 568.3 924.9 567C925.5 565.7 926.4 564.1 927.2 563.2C928.1 562.4 928.9 561.7 930.1 561.8C931.2 561.9 932.7 562.8 934.3 563.7C935.9 564.6 938 565.7 939.5 567C941 568.3 942.1 569.4 943.2 571.2C944.3 573 945.3 575.6 946.1 577.8C946.8 580 947.1 582.3 947.5 584.4C947.8 586.5 948.1 589.5 948.2 590.5"/>
<path class="d" d="M924.4 576.4C925.4 576.9 927.9 577.7 930.5 579.2C933.1 580.8 938.4 584.7 939.9 585.8"/>
<path class="d" d="M915.5 610.7C916 609.5 917.2 606.4 918.3 603.2C919.4 600.1 921 594.7 922.1 591.9C923.1 589.2 923.5 588 924.4 586.8C925.4 585.5 926.4 584.7 927.7 584.6C929 584.4 931 585.1 932.4 585.8C933.8 586.6 935.2 587.8 936.2 589.1C937.1 590.4 937.8 591.8 938.1 593.8C938.3 595.8 938 598.5 937.6 601.3C937.2 604.2 936.3 607.6 935.7 610.7C935.2 613.9 934.5 617.9 934.3 620.2C934.1 622.5 934.4 623.6 934.8 624.7C935.2 625.8 936.3 626.7 936.6 627.1"/>
<path class="d" d="M939 626.6C939 625.2 938.7 621.1 939 618.1C939.3 615.1 939.9 611.8 940.9 608.7C941.8 605.6 943.5 602.2 944.6 599.3C945.8 596.3 947.2 593 947.9 591C948.7 589 948.9 588.6 949.3 587.2C949.8 585.8 950.1 583.9 950.8 582.5C951.4 581.1 952.2 579.7 953.1 578.8C954.1 577.8 955.1 576.8 956.4 576.9C957.7 576.9 958.7 578 960.6 578.9C962.6 579.9 966.4 581.1 968.2 582.5C969.9 583.9 970.1 585.2 971 587.2C971.8 589.3 972.7 592.1 973.3 594.8C974 597.4 974.5 600.6 974.7 603.2C975 605.9 975 607.9 974.7 610.7C974.5 613.6 974.1 616.9 973.3 620.2C972.6 623.5 971.1 626.9 970 630.3C969 633.8 967.9 638.6 967.2 640.7C966.5 642.8 966.6 642.4 965.8 642.8C965 643.2 963.1 643 962.5 643"/>
<path class="d" d="M914.5 614.8L937.1 627.5M941.8 631.8L962.5 643"/>
<path class="d" d="M951.2 591.9C952.5 592.5 956.2 593.7 958.8 595.2C961.3 596.7 965.4 599.9 966.8 600.9"/>
<path class="d" d="M941.8 626.1C942.3 624.8 943.5 621.2 944.6 618.1C945.7 615.1 947.2 610.6 948.4 607.8C949.7 604.9 951 602.5 952.2 601.1C953.3 599.8 954.1 599.4 955.5 599.5C956.9 599.5 959.1 600.2 960.6 601.3C962.1 602.4 963.6 604.2 964.4 606C965.2 607.9 965.5 610.3 965.3 612.6C965.2 615 964.2 616.7 963.5 620C962.8 623.3 961.5 629.1 961.1 632.2C960.7 635.4 960.9 637.1 961.1 638.8C961.3 640.5 962.3 641.9 962.5 642.6"/>
<path class="d" d="M913.8 613.9C913.6 614.6 913.3 616.9 912.8 618.1C912.4 619.4 912.5 620.2 911.2 621.4C910 622.6 906.6 624.1 905.3 625.1C904.1 626.1 903.8 626.6 903.7 627.3C903.6 628.1 904.1 629.3 904.7 629.6C905.2 629.9 906 629.6 907 629.2C908 628.9 909.4 628.5 910.8 627.5C912.2 626.6 914.4 624.7 915.5 623.5C916.5 622.3 916.8 621.4 917.2 620.5C917.6 619.6 917.6 618.4 917.7 618" style="stroke-width:1"/>
<path class="d" d="M904.7 628C904.7 627.8 905.1 627.3 905.3 627.3C905.6 627.3 906.1 627.9 906.1 628.1C906.1 628.3 905.6 628.8 905.3 628.7C905.1 628.7 904.7 628.2 904.7 628Z"/>
<path class="d" d="M962.2 641.6C961.8 642.6 960.9 645.8 959.9 647.5C958.9 649.1 957.5 650.4 956.4 651.5C955.3 652.6 954 653.3 953.3 654.1C952.6 654.8 952 655.5 952 656.1C952 656.7 952.7 657.5 953.3 657.7C953.9 657.9 954.6 657.5 955.5 657.2C956.3 656.8 956.8 656.7 958.3 655.4C959.8 654 963.1 650.8 964.4 649.2C965.7 647.5 965.9 646.6 966.3 645.4C966.7 644.2 966.7 642.7 966.8 642.2" style="stroke-width:1"/>
<path class="d" d="M963.5 644C963.1 644.8 962.1 647.3 961.1 648.7C960.1 650.1 958 651.8 957.3 652.5"/>
<path d="M936.6 627.1L939.5 626.6L941.8 631.3L942.8 632.7L940.9 633.6L939.9 636L938.5 635.5L938.1 633.2L936.2 633.6L935.7 632.2L937.6 631.3Z" fill="#fff" stroke="#222" stroke-width="0.9" stroke-linejoin="round"/>
<path d="M936.2 632.2L938.1 631.8L938.5 635L939.9 635.8L940.9 633.6L942.3 632.7" fill="none" stroke="#222" stroke-width="1.3"/>
</g>
<path class="d" d="M902.8 641.9L902.8 659.3M905.6 643.3L905.6 659.8" style="stroke-width:0.95"/>
<ellipse cx="903.7" cy="660.6" rx="2.8" ry="1.5" fill="#444" stroke="#222" stroke-width="0.6"/>
<path class="df" d="M945.1 667.5C945.5 666.6 948.6 664.9 950.3 663.8C951.9 662.6 953.9 660.9 955 660.6C956 660.2 957 660.9 956.7 661.9C956.3 662.8 954.4 665 952.9 666.2C951.4 667.4 948.9 669 947.6 669.2C946.3 669.4 944.6 668.4 945.1 667.5Z" style="stroke-width:0.9"/>
<path class="d" d="M883 645.2L898.5 636.3L946.5 664.5L929.6 673.9Z" style="stroke-width:0.95"/>
<path class="d" d="M887.7 645.3L898.5 639.1L941.7 664.4L929.6 671.1Z" style="stroke-width:0.95"/>
<path class="d" d="M929.6 673.9L929.8 676L946.5 666.4L946.5 664.5" style="stroke-width:0.95"/>
<path class="df" d="M907.9 657.9L919.2 651.8L921.1 653.2L909.8 659.3" style="stroke-width:0.95"/>
<path class="df" d="M921.1 650.6L923.9 645.2L926.6 646.2L924.1 651.5Z" style="stroke-width:0.95"/>
<path d="M923.9 645.2L926.6 646.2L925.8 647.6L923.4 646.6Z" fill="#222"/>
<circle cx="921.3" cy="654.3" r="1.3" fill="#222"/>
<circle cx="917.5" cy="651.5" r="1.0" fill="#222"/>
<path class="d" d="M888.6 650.4L888.6 667.8M891.5 651.8L891.5 667.8" style="stroke-width:0.95"/>
<path class="d" d="M886.5 668.5C886.7 668.1 887.8 667.6 888.6 667.5C889.5 667.4 891.1 667.5 891.7 667.7C892.4 667.9 892.7 668.5 892.5 668.8C892.3 669.2 891.4 669.8 890.5 670C889.6 670.1 887.9 670 887.2 669.8C886.6 669.5 886.2 668.8 886.5 668.5Z" style="stroke-width:0.95"/>
<path class="d" d="M891.5 654.2L896.6 651.3M891.5 656L902.8 650.4" style="stroke-width:0.95"/>
<ellipse cx="934.1" cy="674.9" rx="3" ry="1.6" fill="#444" stroke="#222" stroke-width="0.6"/>
<path class="d" d="M825.9 667.7C826.7 667 828 665.1 830.6 663.5C833.3 661.9 838.8 659.6 841.9 658.2C845.1 656.8 847.1 655.5 849.4 655.2C851.8 654.9 853.4 655.3 856 656.3C858.7 657.4 862.1 659.7 865.4 661.6C868.7 663.5 874 666.3 875.8 667.7C877.5 669.1 875.9 669.7 876 670.1"/>
<path class="d" d="M850.9 688.4C850.3 688.3 849.8 689 847.6 687.9C845.3 686.8 840.4 683.8 837.2 681.8C834.1 679.9 830.6 678 828.7 676.2C826.9 674.3 826.9 671.9 826.4 670.5C825.9 669.1 826 668.2 825.9 667.7"/>
<path class="d" d="M825.9 667.7C827.8 668.7 833.3 671.7 837.2 673.8C841.1 675.9 847.4 679.3 849.4 680.4M849.4 680.4C850.5 679.9 853.4 678.8 856 677.6C858.7 676.3 862.3 674.1 865.4 672.9C868.6 671.6 873.3 670.5 874.8 670.1"/>
<path class="d" d="M849.4 680.4C849.5 681 849.7 682.8 849.9 684.2C850.1 685.5 850.7 687.7 850.9 688.4"/>
<path class="d" d="M849.9 657.4C849.2 658 847 659.9 845.7 661.1C844.3 662.3 842.4 663.2 841.9 664.4C841.4 665.6 841.9 667 842.9 668.2C843.8 669.3 845.7 670.7 847.6 671.5C849.4 672.2 852 672.8 854.1 672.9C856.3 673 858.2 672.4 860.7 671.9C863.2 671.5 867 670.5 869.2 670.1C871.4 669.6 873.1 669.3 873.9 669.1"/>
<path class="d" d="M850.9 688.4C851.1 688 851.8 686.9 852.3 686C852.7 685.2 853.2 683.7 853.4 683.2"/>
<path class="d" d="M853.2 682.3C853.9 680.9 855.6 679.9 857.9 678.5C860.3 677.1 864.2 675.1 867.3 673.8C870.5 672.5 874.2 670.9 876.7 670.5C879.2 670.1 879.9 670.4 882.4 671.5C884.9 672.5 888.6 675 891.8 676.8C894.9 678.6 899.5 680.6 901.2 682.3C902.9 684 902.6 685.4 902.1 687C901.7 688.6 899.8 690.3 898.4 691.7C897 693.1 895.7 694 893.7 695.5C891.6 696.9 888.6 698.8 886.1 700.2C883.6 701.5 880.5 702.9 878.6 703.4C876.7 704 877.4 704.5 874.8 703.4C872.3 702.4 866.7 699.2 863.6 697.3C860.4 695.5 857.7 693.9 856 692.2C854.4 690.4 854.1 688.6 853.7 687C853.2 685.3 852.5 683.7 853.2 682.3Z"/>
<path class="d" d="M853.2 682.3C854.9 683.3 859.9 686.3 863.6 688.4C867.2 690.5 873.4 693.9 875.3 695M875.3 695C876.8 694.4 881.2 692.5 884.3 691.2C887.3 690 890.8 688.5 893.7 687.5C896.5 686.4 899.9 685.5 901.2 685.1"/>
<path class="d" d="M875.3 695C875.4 695.7 875.6 697.8 875.8 699.2C875.9 700.6 876.2 702.7 876.3 703.4"/>
<path class="d" d="M875.8 672.4C875 673 872.3 674.9 871.1 676.2C869.9 677.4 868.7 678.6 868.7 679.9C868.7 681.3 869.4 682.8 871.1 684.2C872.7 685.5 876.1 687.4 878.6 687.9C881.1 688.5 883.6 687.8 886.1 687.5C888.6 687.1 891.3 686.5 893.7 686C896 685.6 899.1 684.9 900.2 684.6"/>
<path class="d" d="M886.3 584.7C886.1 584.2 886.2 583.5 886.6 582.9C886.9 582.4 886.4 582.3 888.4 581.6C890.4 580.9 896.3 579.1 898.5 578.9C900.8 578.6 901 579.5 901.7 580C902.4 580.4 902.7 581 902.6 581.6C902.5 582.1 903.4 582.4 901.4 583.3C899.3 584.1 892.7 586.2 890.4 586.7C888.2 587.1 888.5 586.4 887.8 586.1C887.1 585.8 886.6 585.3 886.3 584.7Z"/>
<path class="d" d="M886.8 583.2C887.3 583.3 888.9 583.7 889.5 584.3C890.1 584.9 890.3 586.2 890.4 586.5M889.5 584.3L902.2 580.9"/>
<path class="d" d="M887.8 594.9C887.8 594.5 886 594.2 888.4 593.4C890.7 592.6 899.3 590.5 901.9 590C904.6 589.6 903.9 590.2 904.2 590.6C904.5 591 906 591.5 903.7 592.4C901.5 593.3 893.4 595.4 890.9 596C888.3 596.6 889.1 596.2 888.6 596C888.1 595.8 887.9 595.3 887.8 594.9Z"/>
<path class="d" d="M888.6 594.6L903.5 591.1"/>
<path d="M903.6 589.5L905.9 589.3L907 591.7L904.7 594.6L903.1 592.9Z" fill="#111" stroke="#111" stroke-width="0.8"/>
<path class="ld" d="M869.2 583.3L886.7 583.3"/>
<path class="ld" d="M870.3 594.2L888.4 594.2"/>
<path class="ld" d="M894 605.3L911.5 605.3"/>
<path class="ld" d="M864.7 645.8L882.7 645.8"/>
<path class="ld" d="M846 687L846 703.9"/>
<path class="ld" d="M894 694.9L909.8 694.9"/>
<path class="ld" d="M139 537.5L139 546.6"/>
<path class="ld" d="M663.3 535.5L663.3 546.6"/>
<path class="ld" d="M925.8 536L925.8 546.6"/>
<path class="ld" d="M973.6 617L990.8 617"/>
<path class="d" d="M341 592.6C341.1 591.6 340 590.9 342.2 589.9C344.5 588.9 351.3 587.1 354.5 586.5C357.6 585.8 360 585 361.2 586C362.4 586.9 364.1 590.2 361.6 592.1C359 594 349.2 596.6 345.9 597.2C342.6 597.8 342.8 596.5 342 595.8C341.2 595 341 593.6 341 592.6Z"/>
<path class="d" d="M342 591.7C342.6 592 342.8 594 345.9 593.6C349.1 593.1 358.4 590 360.8 589.3M345.9 593.6L345.9 597"/>
<path class="df" d="M361.9 612.5C361.6 611.8 360.2 608.6 359.9 607.9C359.6 607.2 360.1 609.8 360 608.2C359.9 606.7 359.1 602.1 359.4 598.4C359.7 594.8 360.8 590.3 361.8 586.2C362.8 582.1 364.3 577.8 365.5 574C366.7 570.1 367.8 566.1 369.2 562.9C370.5 559.8 372.4 556.8 373.5 555C374.5 553.2 375.3 552.6 375.7 552.2C375.8 551.5 375.7 550.1 376.3 548.3C376.8 546.4 377.9 543 379 540.9C380 538.9 381.4 537.1 382.6 536C383.9 534.9 384.9 534.2 386.3 534.2C387.7 534.2 389.2 535 391.2 536C393.2 537 396.5 539 398.6 540.3C400.6 541.6 402 542.4 403.4 544C404.9 545.5 406 547.3 407.1 549.5C408.2 551.6 409.4 554.2 410.2 556.8C411 559.5 411.5 561.8 412 565.4C412.5 569 412.8 576.1 413 578.3"/>
<path class="d" d="M378.4 556.6C379.9 557.3 383.8 558.9 387.5 561.1C391.3 563.3 398.8 568.3 401 569.7"/>
<path class="d" d="M364.9 607.6C365.6 605.5 367.6 599 369.2 594.8C370.7 590.6 372.7 586.2 374.1 582.5C375.4 578.9 376.1 575 377.1 572.7C378.1 570.5 378.9 569.6 380.2 568.8C381.5 568 383.3 567.6 385.1 567.8C386.9 568.1 389.4 569.1 391.2 570.5C393 572 395 574.2 396.1 576.4C397.2 578.6 397.5 580.9 397.6 583.8C397.7 586.6 397.2 590.3 396.7 593.6C396.3 596.8 395.6 600.1 394.9 603.3C394.1 606.6 392.6 609.8 392.3 613.2C391.9 616.6 392.3 620.5 392.9 623.8C393.6 627.1 395.7 631.5 396.2 633"/>
<path class="d" d="M360.6 616.5L361.9 612.5L364.1 616.9"/>
<path class="d" d="M399.5 634.3C399.3 633 398.2 629.9 398.2 626.4C398.2 622.9 398.7 617.3 399.5 613.2C400.4 609.2 402.2 606 403.4 602.1C404.7 598.2 405.9 593.3 407.1 589.9C408.3 586.4 409.8 583.2 410.8 581.3C411.8 579.4 412.2 579.9 413 578.3C413.8 576.6 414.8 573.9 415.7 571.5C416.5 569.2 417.1 566.2 418.1 564.2C419.2 562.1 420.6 560.4 421.8 559.3C423 558.2 424.1 557.4 425.5 557.4C426.9 557.4 428.5 558.5 430.4 559.3C432.2 560.1 434.7 561.3 436.5 562.3C438.3 563.4 440 564.1 441.4 565.4C442.8 566.7 443.8 568 445.1 570.3C446.3 572.5 447.7 575.8 448.7 578.9C449.8 581.9 450.6 585.4 451.2 588.7C451.8 591.9 452.1 595.2 452.2 598.4C452.3 601.7 452.1 604.6 451.7 607.9C451.3 611.3 450.9 613.2 449.7 618.5C448.5 623.8 446 633.9 444.4 639.6C442.9 645.3 442 650.4 440.5 652.8C438.9 655.3 436.1 653.9 435.2 654.2"/>
<path class="d" d="M417.5 579.5C419.3 580.3 424.1 582.2 427.9 584.4C431.8 586.5 438.6 591 440.8 592.3"/>
<path class="d" d="M404.8 630.4C405.7 628 408.5 620.6 410.1 615.8C411.7 611.1 413.1 605.6 414.5 602.1C415.8 598.6 416.9 596.6 418.1 594.8C419.4 592.9 420.4 591.7 421.8 591.1C423.2 590.5 424.9 590.5 426.7 591.1C428.5 591.7 431.2 593.1 432.8 594.8C434.5 596.4 435.7 598.7 436.5 600.9C437.3 603.1 437.3 607.1 437.5 608.2C437.7 609.4 438.2 605.3 437.8 607.9C437.5 610.5 436.2 618.5 435.2 623.8C434.2 629.1 432.3 635.4 431.9 639.6C431.5 643.8 432 646.4 432.6 648.9C433.1 651.3 434.8 653.3 435.2 654.2"/>
<path class="df" d="M396.2 633.3L398.9 631.7L400.2 634.6L402.8 635.4L403.8 639.6L400.9 639.6L399.5 637.6L396.9 638.3Z"/>
<path class="d" d="M395.6 637C393.1 635.5 386.5 631.4 381 628C375.5 624.6 367 618.3 362.5 616.5C358.1 614.7 358.1 616.2 354.6 617.2C351.1 618.2 345.8 620.5 341.4 622.5C337 624.4 331.4 626.9 328.2 629.1C325 631.3 322.9 633.2 322.3 635.7C321.6 638.1 323.3 641.2 324.2 643.6C325.2 646 325.3 647.8 328.2 650.2C331.1 652.6 336.6 655.5 341.4 658.1C346.3 660.8 354 664.7 357.3 666C360.6 667.4 360.6 666 361.2 666"/>
<path class="d" d="M322.3 635.7C325 637.1 333.2 641.3 338.8 644.2C344.4 647.2 353.1 652 355.9 653.5M355.9 653.5C357.9 652.5 363.7 649.4 367.8 647.5C372 645.7 376.6 643.7 381 642.3C385.4 640.8 392 639.5 394.2 639"/>
<path class="d" d="M355.9 653.5C356.2 654.5 356.8 657.3 357.3 659.4C357.7 661.5 358.4 664.9 358.6 666"/>
<path class="d" d="M358.6 619.8C357.5 620.8 354 623.8 352 625.8C350 627.7 347.1 629.7 346.7 631.7C346.3 633.7 347.8 636 349.3 637.6C350.9 639.3 353.3 640.6 355.9 641.6C358.6 642.6 361.9 643.6 365.2 643.6C368.5 643.6 372.2 642.3 375.8 641.6C379.3 640.9 383.2 640.2 386.3 639.6C389.4 639.1 392.9 638.5 394.2 638.3"/>
<path class="d" d="M361.2 666C361.4 665.4 362 663.4 362.3 662.1C362.5 660.8 362.7 658.8 362.8 658.1"/>
<path class="d" d="M432.6 655.5C430.1 654.2 422.6 650.1 418 647.5C413.4 645 407.9 641.6 404.8 640.3C401.7 639 402.2 639.5 399.5 639.6C396.9 639.7 392.5 639.8 389 640.9C385.4 642 381.9 644.2 378.4 646.2C374.9 648.2 370.5 650.9 367.8 652.8C365.2 654.8 363.1 655.9 362.5 658.1C362 660.3 363.4 663.6 364.5 666C365.6 668.5 366.4 670.2 369.2 672.6C371.9 675.1 376.9 678 381 680.6C385.2 683.1 391.2 686.3 394.2 687.8C397.3 689.4 397.3 689.9 399.5 689.8C401.7 689.7 404.8 688.4 407.5 687.2C410.1 686 412.5 684.3 415.4 682.6C418.2 680.8 423.1 677.6 424.6 676.6"/>
<path class="d" d="M362.5 658.1C365.2 659.5 372.9 663.6 378.4 666.7C383.9 669.8 392.7 675 395.6 676.6M395.6 676.6C397.6 675.5 403.3 672 407.5 670C411.6 668 416.9 666.2 420.7 664.7C424.4 663.3 428.4 662 429.9 661.4"/>
<path class="d" d="M395.6 676.6C395.8 677.7 396.3 681.1 396.9 683.2C397.4 685.4 398.5 688.5 398.9 689.6"/>
<path class="d" d="M397.6 643.6C396.3 644.6 392.2 647.5 390.3 649.5C388.4 651.5 386.3 653.6 386.3 655.5C386.3 657.3 388.1 659.1 390.3 660.8C392.5 662.4 396.2 664.6 399.5 665.4C402.8 666.2 406.6 665.7 410.1 665.4C413.6 665.1 417.6 664.1 420.7 663.4C423.7 662.7 427.3 661.7 428.6 661.4"/>
<path class="df" d="M427.3 676.3C429.5 674.3 438.4 666.9 441.1 665C443.9 663 443.3 664.3 443.8 664.7C444.2 665.2 445.8 665.7 443.8 667.6C441.8 669.6 434.5 674.7 431.9 676.3C429.3 678 428.7 677.3 427.9 677.3C427.2 677.3 425.1 678.4 427.3 676.3Z"/>
<path class="df" d="M435.2 654.2C434.5 655.3 433 658.1 431.2 660.8C429.5 663.4 426.7 667.6 424.6 670C422.5 672.4 419.6 674.1 418.7 675.3C417.8 676.5 417.9 677.7 419.3 677.3C420.8 676.8 424.8 675 427.3 672.6C429.7 670.3 431.8 666.4 433.9 663.4C436 660.4 438.8 656.2 439.8 654.8"/>
<path class="d" d="M433.9 658.1C432.8 659.7 429.5 664.5 427.3 667.4C425.1 670.2 421.8 674 420.7 675.3"/>
<path class="df" d="M406.1 683.5C407.3 682.6 411.3 682.4 412.7 682.6C414.2 682.7 415.4 683.5 414.7 684.5C414.1 685.5 410.3 687.9 408.8 688.5C407.2 689 405.9 688.7 405.5 687.8C405 687 404.9 684.4 406.1 683.5Z"/>
<circle cx="408.1" cy="685.6" r="1.3" fill="none" stroke="#222" stroke-width="0.7"/>
<path class="d" d="M342.1 658.1L342.1 674M346 660.1L346 674"/>
<path class="d" d="M339.4 676.3C339.7 675.7 340.9 674.4 342.1 674C343.2 673.6 345.5 673.7 346.4 674C347.4 674.2 348 674.9 347.8 675.6C347.5 676.2 345.9 677.5 344.7 677.9C343.6 678.3 341.6 678.2 340.8 677.9C339.9 677.7 339.2 677 339.4 676.3Z"/>
<circle cx="17.8" cy="21.5" r="8.2" fill="#fff" stroke="#222" stroke-width="1.05"/>
<text class="ck" x="18.3" y="26.2" font-size="13.5">w</text>
<circle cx="279.95" cy="21.5" r="8.2" fill="#fff" stroke="#222" stroke-width="1.05"/>
<text class="ck" x="279.6" y="26.4" font-size="13.5">x</text>
<circle cx="542.2" cy="21.5" r="8.2" fill="#fff" stroke="#222" stroke-width="1.05"/>
<text class="ck" x="542.1" y="26.2" font-size="13.5">y</text>
<circle cx="804.4" cy="21.9" r="8.2" fill="#fff" stroke="#222" stroke-width="1.05"/>
<text class="ck" x="803.9" y="26.7" font-size="13.5">z</text>
<circle cx="17.8" cy="259.25" r="8.2" fill="#fff" stroke="#222" stroke-width="1.05"/>
<text class="ck" x="17.9" y="264.0" font-size="12.5">2</text>
<circle cx="279.95" cy="259.25" r="8.2" fill="#fff" stroke="#222" stroke-width="1.05"/>
<text class="ck" x="279.8" y="263.9" font-size="12.5">1</text>
<circle cx="542.2" cy="259.25" r="8.2" fill="#fff" stroke="#222" stroke-width="1.05"/>
<text class="ck" x="542.2" y="264.7" font-size="12.5">3</text>
<circle cx="804.4" cy="259.1" r="8.2" fill="#fff" stroke="#222" stroke-width="1.05"/>
<text class="ck" x="803.9" y="262.8" font-size="12.5" font-weight="bold">4</text>
<circle cx="17.8" cy="496.5" r="8.2" fill="#fff" stroke="#222" stroke-width="1.05"/>
<text class="ck" x="18.4" y="500.9" font-size="12.5">5</text>
<circle cx="279.95" cy="496.5" r="8.2" fill="#fff" stroke="#222" stroke-width="1.05"/>
<text class="ck" x="279.95" y="502.1" font-size="12.5">6</text>
<circle cx="542.2" cy="496.5" r="8.2" fill="#fff" stroke="#222" stroke-width="1.05"/>
<text class="ck" x="542.1" y="502.1" font-size="12.5">7</text>
<circle cx="804.4" cy="496.5" r="8.2" fill="#fff" stroke="#222" stroke-width="1.05"/>
<text class="ck" x="805.0" y="501.7" font-size="12.5">8</text>
<text class="lb" x="117.3" y="56.3">87009A</text>
<text class="lb" x="216.7" y="88.7">88971B</text>
<text class="lb" x="213.6" y="104.6">88941B</text>
<text class="lb" x="208.4" y="130.1">89351B</text>
<text class="lb" x="174.4" y="159.6">89321B</text>
<text class="lb" x="140" y="201.0">89380H</text>
<text class="lb" x="21.8" y="117.5">89341B</text>
<text class="lb" x="24.2" y="132.4">89354C</text>
<text class="lb" x="28.2" y="177.2">89311C</text>
<text class="lb" x="379.6" y="56.1">87008A</text>
<text class="lb" x="322.4" y="94.1">89321B</text>
<text class="lb" x="279.4" y="115.2">89341B</text>
<text class="lb" x="282.1" y="129.4">89354C</text>
<text class="lb" x="476.6" y="97.4">88971B</text>
<text class="lb" x="479" y="112.5">88941B</text>
<text class="lb" x="471.4" y="136.9">89351B</text>
<text class="lb" x="451" y="156.9">89322D</text>
<text class="lb" x="421.6" y="196.3">89378</text>
<text class="lb" x="373.7" y="221.2">89311C</text>
<text class="lb" x="286.3" y="235.6">89311C</text>
<text class="lb" x="638.4" y="56.1">89111A2</text>
<text class="lb" x="584.4" y="94.1">89321B</text>
<text class="lb" x="541.7" y="115.2">89341B</text>
<text class="lb" x="544.1" y="129.4">89354C</text>
<text class="lb" x="739.2" y="97.4">88971B</text>
<text class="lb" x="740.9" y="112.5">88941B</text>
<text class="lb" x="733.6" y="136.9">89351B</text>
<text class="lb" x="713" y="156.9">89322D</text>
<text class="lb" x="683.2" y="196.3">89372A</text>
<text class="lb" x="636" y="221.2">89311C</text>
<text class="lb" x="548.2" y="235.6">89311C</text>
<text class="lb" x="903.8" y="54.8">89125K</text>
<text class="lb" x="844.3" y="125.6">89322C</text>
<text class="lb" x="996.8" y="126.5">89351B</text>
<text class="lb" x="997.2" y="155.5">89341B</text>
<text class="lb" x="1000.8" y="171.2">89355D</text>
<text class="lb" x="813.6" y="172.0">89311C</text>
<text class="lb" x="926.1" y="195.4">89373C</text>
<text class="lb" x="122.5" y="265.2">89132A</text>
<text class="lb" x="386.4" y="265.2">89126E</text>
<text class="lb" x="644.6" y="265.2">89127B</text>
<text class="lb" x="910" y="265.2">89123E</text>
<text class="lb" x="113.7" y="534.4">89111A1</text>
<text class="lb" x="17.4" y="590.4">89341B</text>
<text class="lb" x="19.9" y="601.0">89354C</text>
<text class="lb" x="42.3" y="611.8">89321B</text>
<text class="lb" x="13.9" y="653.4">89371B</text>
<text class="lb" x="19.5" y="716.3">89311C</text>
<text class="lb" x="107.0" y="702.0">89311C</text>
<text class="lb" x="220.5" y="577.3">88971B</text>
<text class="lb" x="217.4" y="592.9">88941B</text>
<text class="lb" x="212.0" y="617.8">89351B</text>
<text class="lb" x="184.6" y="637.2">89322D</text>
<text class="lb" x="385.4" y="502.3">89111A2</text>
<text class="lb" x="637.8" y="532.0">89111A3</text>
<text class="lb" x="541.4" y="590.4">89341B</text>
<text class="lb" x="543.9" y="601.0">89354C</text>
<text class="lb" x="566.3" y="611.8">89321B</text>
<text class="lb" x="537.9" y="653.4">89373A</text>
<text class="lb" x="543.5" y="716.3">89311C</text>
<text class="lb" x="631.0" y="702.0">89311C</text>
<text class="lb" x="744.5" y="577.3">88971B</text>
<text class="lb" x="741.4" y="592.9">88941B</text>
<text class="lb" x="736.0" y="617.8">89351B</text>
<text class="lb" x="708.6" y="637.2">89322D</text>
<text class="lb" x="905.8" y="532.7">89138</text>
<text class="lb" x="993.2" y="623.2">89324</text>
<text class="lb" x="822.4" y="589.4">89341B</text>
<text class="lb" x="824.1" y="600.0">89354C</text>
<text class="lb" x="846.5" y="610.8">89323</text>
<text class="lb" x="818.1" y="652.4">89374B</text>
<text class="lb" x="824.5" y="715.3">89311C</text>
<text class="lb" x="912.0" y="701.0">89311C</text>
<path d="M528.8 99.5V113" stroke="#5a5ae0" stroke-width="1" fill="none" opacity="0.8"/>
<path d="M790.8 99.5V113" stroke="#5a5ae0" stroke-width="1" fill="none" opacity="0.8"/>
<path d="M266.2 564.5V595" stroke="#5a5ae0" stroke-width="1" fill="none" opacity="0.8"/>
<path d="M790.8 565V595" stroke="#5a5ae0" stroke-width="1" fill="none" opacity="0.8"/>
<path d="M11.2 640.5V656" stroke="#5a5ae0" stroke-width="1" fill="none" opacity="0.8"/>
<path d="M535.4 641V656" stroke="#5a5ae0" stroke-width="1" fill="none" opacity="0.8"/>
<g class="wm" opacity="0.95"><text x="30.7" y="50.8" fill="#3b76c2" textLength="118.6" lengthAdjust="spacingAndGlyphs">avtochast.ru</text><text x="30.1" y="50.2" fill="#84bbf1" textLength="118.6" lengthAdjust="spacingAndGlyphs">avtochast.ru</text></g>
<g class="wm" opacity="0.95"><text x="472.3" y="371.7" fill="#3b76c2" textLength="118.6" lengthAdjust="spacingAndGlyphs">avtochast.ru</text><text x="471.7" y="371.1" fill="#84bbf1" textLength="118.6" lengthAdjust="spacingAndGlyphs">avtochast.ru</text></g>
<g class="wm" opacity="0.95"><text x="913.5" y="691.8" fill="#3b76c2" textLength="118.6" lengthAdjust="spacingAndGlyphs">avtochast.ru</text><text x="912.9" y="691.2" fill="#84bbf1" textLength="118.6" lengthAdjust="spacingAndGlyphs">avtochast.ru</text></g>
</svg>
</body>
</html>
